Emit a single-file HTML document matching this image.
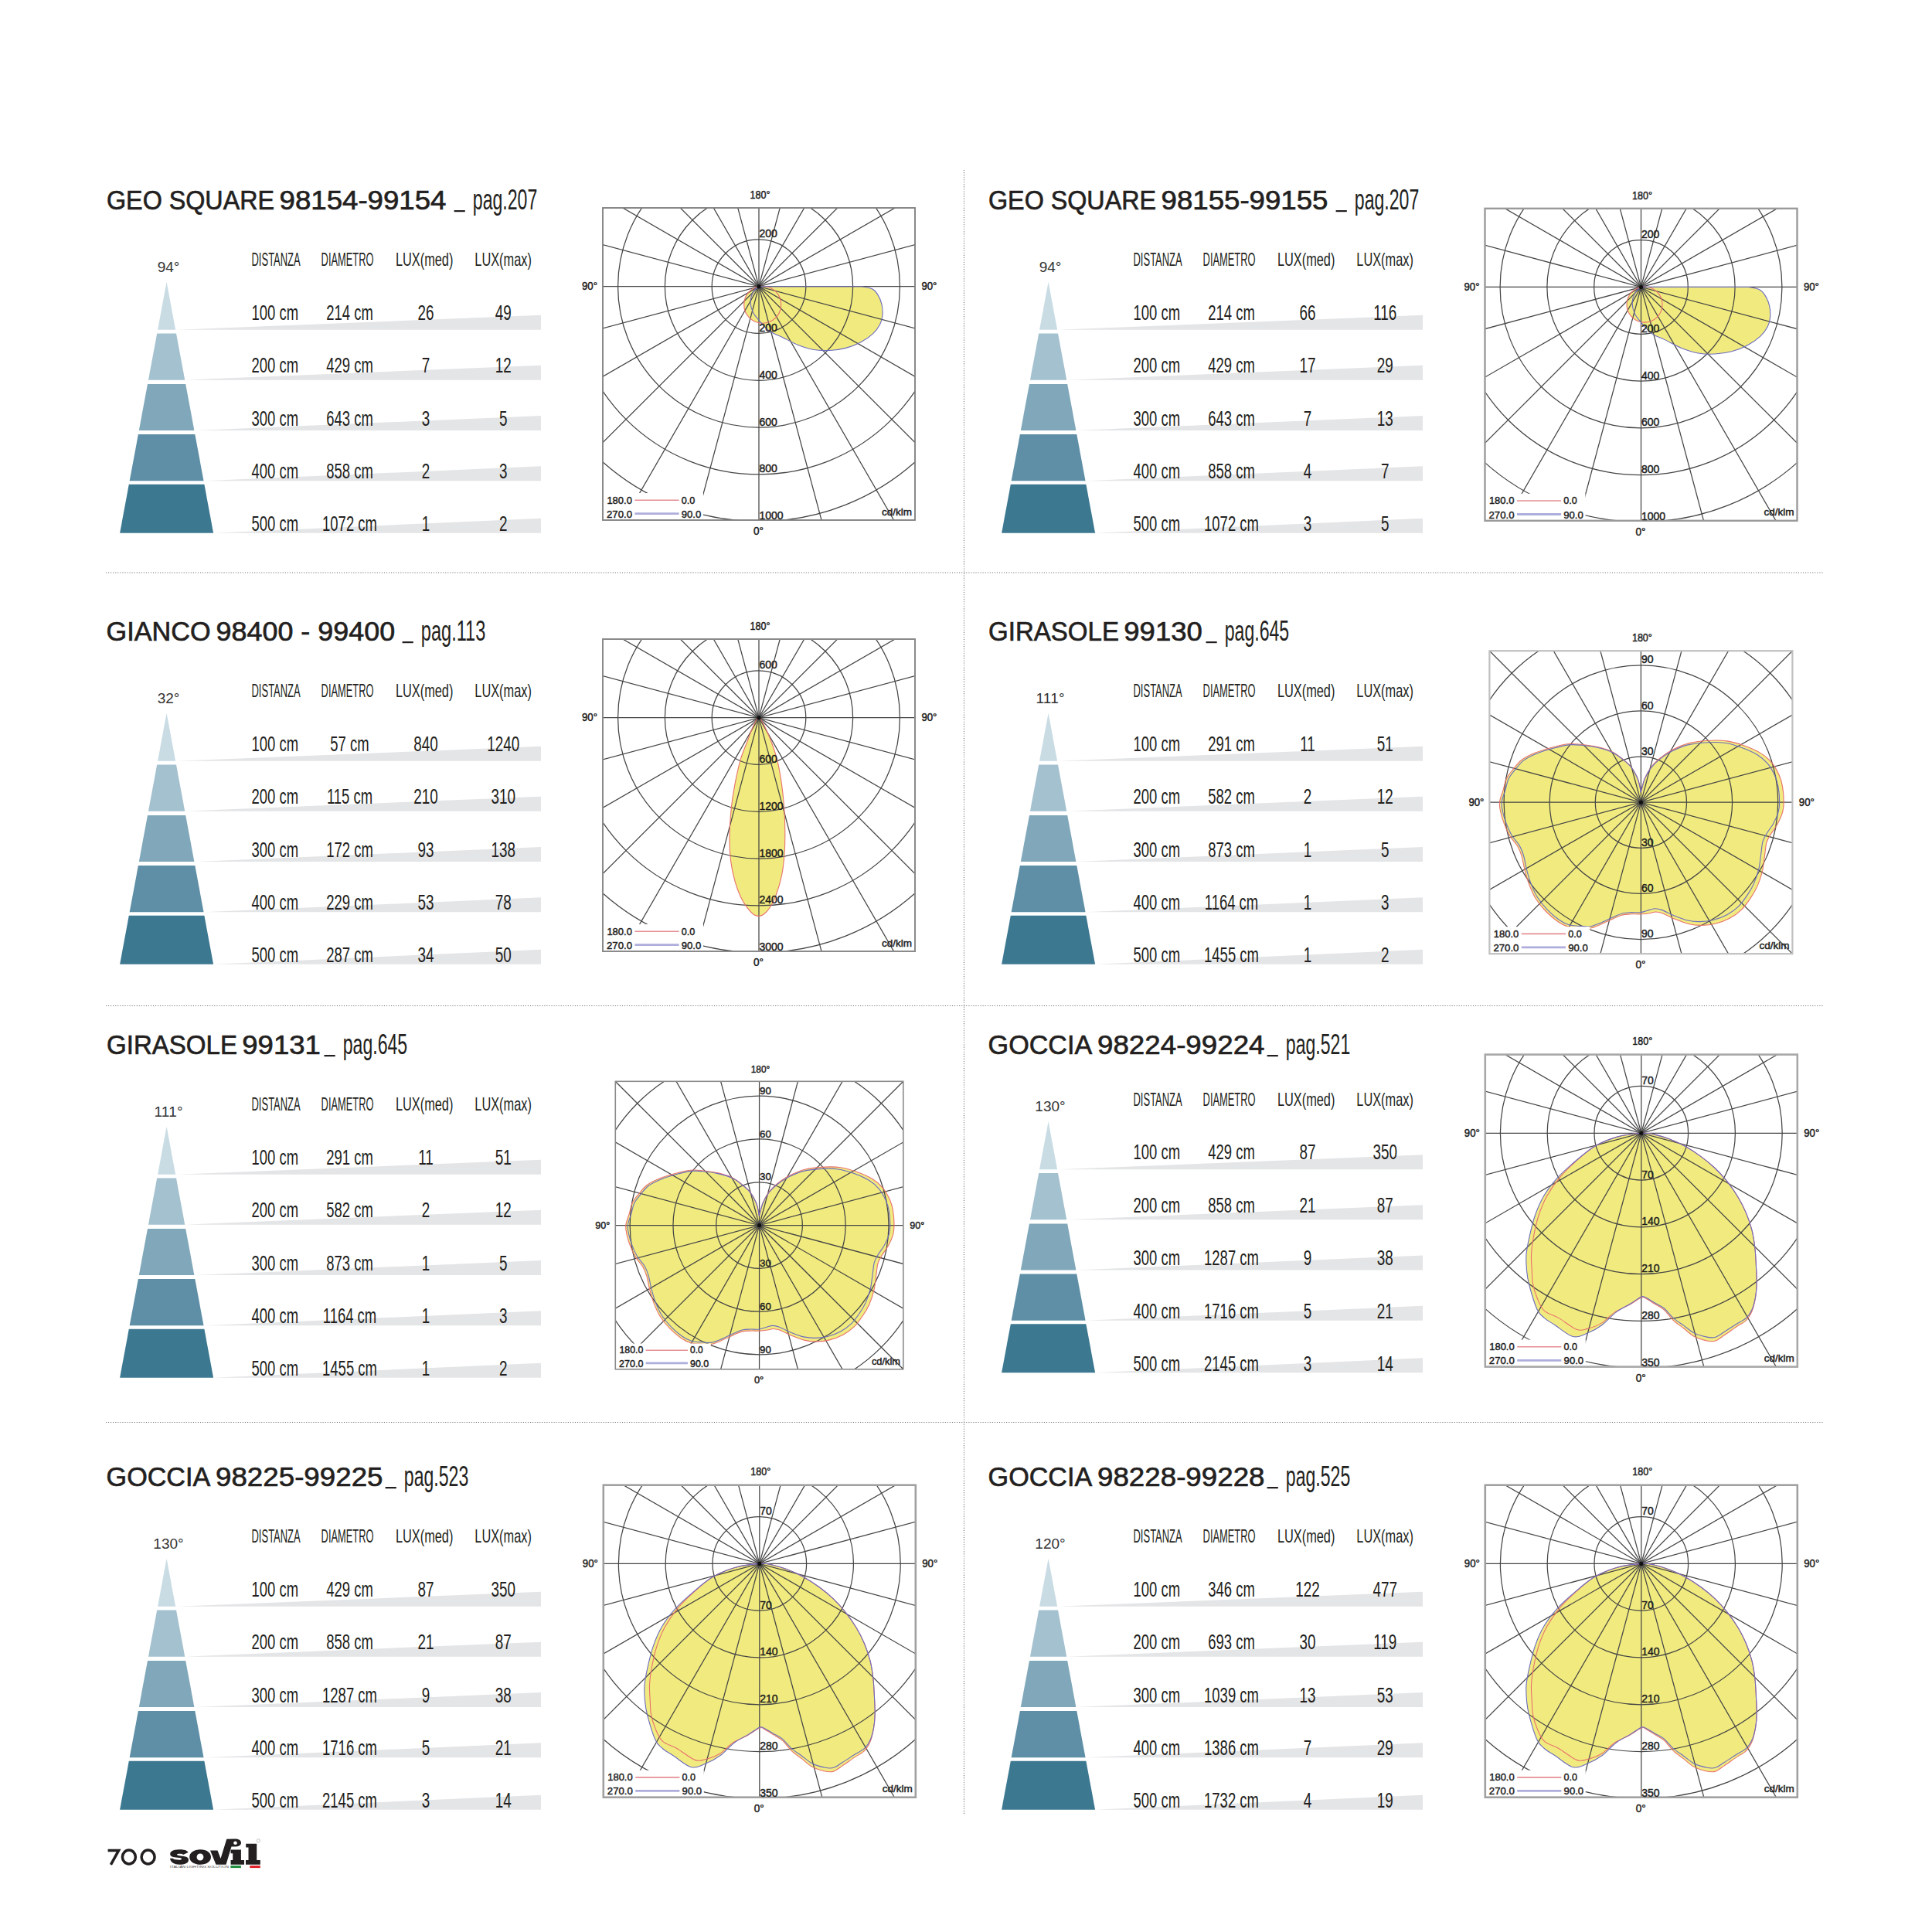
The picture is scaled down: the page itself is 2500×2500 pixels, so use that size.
<!DOCTYPE html><html><head><meta charset="utf-8"><style>html,body{margin:0;padding:0;background:#fff;}svg{display:block;}text{font-family:"Liberation Sans", sans-serif;}</style></head><body>
<svg width="2500" height="2500" viewBox="0 0 2500 2500">
<rect width="2500" height="2500" fill="#fff"/>
<line x1="137" y1="741" x2="2359" y2="741" stroke="#6e6e6e" stroke-width="1.1" stroke-dasharray="1.1 1.95"/>
<line x1="137" y1="1301.5" x2="2359" y2="1301.5" stroke="#6e6e6e" stroke-width="1.1" stroke-dasharray="1.1 1.95"/>
<line x1="137" y1="1840.5" x2="2359" y2="1840.5" stroke="#6e6e6e" stroke-width="1.1" stroke-dasharray="1.1 1.95"/>
<line x1="1247.5" y1="220" x2="1247.5" y2="2349" stroke="#6e6e6e" stroke-width="1.1" stroke-dasharray="1.1 1.95"/>
<g transform="translate(0,0)">
<text x="138" y="271" font-size="35.5" fill="#231f20" stroke="#231f20" stroke-width="0.7" lengthAdjust="spacingAndGlyphs" textLength="217">GEO SQUARE</text>
<text x="361.5" y="271" font-size="35.5" fill="#231f20" stroke="#231f20" stroke-width="0.7" lengthAdjust="spacingAndGlyphs" textLength="216">98154-99154</text>
<rect x="587.6" y="272" width="14.2" height="2.2" fill="#231f20"/>
<text x="611.8" y="270.8" font-size="37" fill="#231f20" textLength="83.5" lengthAdjust="spacingAndGlyphs">pag.207</text>
<g transform="translate(0,0)">
<text x="218" y="351.9" font-size="19" fill="#333" text-anchor="middle">94°</text>
<polygon points="215.6,364.8 227.14,426.8 204.06,426.8" fill="#c9dce4"/>
<polygon points="203.18,431.5 228.02,431.5 239.23,491.7 191.97,491.7" fill="#a4c1cf"/>
<polygon points="190.98,497 240.22,497 251.39,557 179.81,557" fill="#80a8ba"/>
<polygon points="178.9,561.9 252.3,561.9 263.55,622.3 167.65,622.3" fill="#5e8fa6"/>
<polygon points="166.82,626.8 264.38,626.8 276.1,689.7 155.1,689.7" fill="#3d7891"/>
<polygon points="227.14,426.8 700,426.8 700,407.8" fill="#e4e5e7"/>
<polygon points="239.23,491.7 700,491.7 700,472.7" fill="#e4e5e7"/>
<polygon points="251.39,557 700,557 700,538" fill="#e4e5e7"/>
<polygon points="263.55,622.3 700,622.3 700,603.3" fill="#e4e5e7"/>
<polygon points="276.1,689.7 700,689.7 700,670.7" fill="#e4e5e7"/>
<text x="325.5" y="344.2" font-size="24" fill="#231f20" lengthAdjust="spacingAndGlyphs" textLength="63.2">DISTANZA</text>
<text x="415.6" y="344.2" font-size="24" fill="#231f20" lengthAdjust="spacingAndGlyphs" textLength="67.9">DIAMETRO</text>
<text x="511.9" y="344.2" font-size="24" fill="#231f20" lengthAdjust="spacingAndGlyphs" textLength="74.5">LUX(med)</text>
<text x="614.3" y="344.2" font-size="24" fill="#231f20" lengthAdjust="spacingAndGlyphs" textLength="73.6">LUX(max)</text>
<text transform="translate(325.5,413.6) scale(0.665,1)" font-size="27.8" fill="#231f20">100 cm</text>
<text transform="translate(452.5,413.6) scale(0.665,1)" font-size="27.8" fill="#231f20" text-anchor="middle">214 cm</text>
<text transform="translate(551,413.6) scale(0.68,1)" font-size="27.8" fill="#231f20" text-anchor="middle">26</text>
<text transform="translate(651.3,413.6) scale(0.68,1)" font-size="27.8" fill="#231f20" text-anchor="middle">49</text>
<text transform="translate(325.5,482) scale(0.665,1)" font-size="27.8" fill="#231f20">200 cm</text>
<text transform="translate(452.5,482) scale(0.665,1)" font-size="27.8" fill="#231f20" text-anchor="middle">429 cm</text>
<text transform="translate(551,482) scale(0.68,1)" font-size="27.8" fill="#231f20" text-anchor="middle">7</text>
<text transform="translate(651.3,482) scale(0.68,1)" font-size="27.8" fill="#231f20" text-anchor="middle">12</text>
<text transform="translate(325.5,550.6) scale(0.665,1)" font-size="27.8" fill="#231f20">300 cm</text>
<text transform="translate(452.5,550.6) scale(0.665,1)" font-size="27.8" fill="#231f20" text-anchor="middle">643 cm</text>
<text transform="translate(551,550.6) scale(0.68,1)" font-size="27.8" fill="#231f20" text-anchor="middle">3</text>
<text transform="translate(651.3,550.6) scale(0.68,1)" font-size="27.8" fill="#231f20" text-anchor="middle">5</text>
<text transform="translate(325.5,619) scale(0.665,1)" font-size="27.8" fill="#231f20">400 cm</text>
<text transform="translate(452.5,619) scale(0.665,1)" font-size="27.8" fill="#231f20" text-anchor="middle">858 cm</text>
<text transform="translate(551,619) scale(0.68,1)" font-size="27.8" fill="#231f20" text-anchor="middle">2</text>
<text transform="translate(651.3,619) scale(0.68,1)" font-size="27.8" fill="#231f20" text-anchor="middle">3</text>
<text transform="translate(325.5,687.2) scale(0.665,1)" font-size="27.8" fill="#231f20">500 cm</text>
<text transform="translate(452.5,687.2) scale(0.665,1)" font-size="27.8" fill="#231f20" text-anchor="middle">1072 cm</text>
<text transform="translate(551,687.2) scale(0.68,1)" font-size="27.8" fill="#231f20" text-anchor="middle">1</text>
<text transform="translate(651.3,687.2) scale(0.68,1)" font-size="27.8" fill="#231f20" text-anchor="middle">2</text>
</g>
</g>
<g transform="translate(1141,0)">
<text x="138" y="271" font-size="35.5" fill="#231f20" stroke="#231f20" stroke-width="0.7" lengthAdjust="spacingAndGlyphs" textLength="217">GEO SQUARE</text>
<text x="361.5" y="271" font-size="35.5" fill="#231f20" stroke="#231f20" stroke-width="0.7" lengthAdjust="spacingAndGlyphs" textLength="216">98155-99155</text>
<rect x="587.6" y="272" width="14.2" height="2.2" fill="#231f20"/>
<text x="611.8" y="270.8" font-size="37" fill="#231f20" textLength="83.5" lengthAdjust="spacingAndGlyphs">pag.207</text>
<g transform="translate(0,0)">
<text x="218" y="351.9" font-size="19" fill="#333" text-anchor="middle">94°</text>
<polygon points="215.6,364.8 227.14,426.8 204.06,426.8" fill="#c9dce4"/>
<polygon points="203.18,431.5 228.02,431.5 239.23,491.7 191.97,491.7" fill="#a4c1cf"/>
<polygon points="190.98,497 240.22,497 251.39,557 179.81,557" fill="#80a8ba"/>
<polygon points="178.9,561.9 252.3,561.9 263.55,622.3 167.65,622.3" fill="#5e8fa6"/>
<polygon points="166.82,626.8 264.38,626.8 276.1,689.7 155.1,689.7" fill="#3d7891"/>
<polygon points="227.14,426.8 700,426.8 700,407.8" fill="#e4e5e7"/>
<polygon points="239.23,491.7 700,491.7 700,472.7" fill="#e4e5e7"/>
<polygon points="251.39,557 700,557 700,538" fill="#e4e5e7"/>
<polygon points="263.55,622.3 700,622.3 700,603.3" fill="#e4e5e7"/>
<polygon points="276.1,689.7 700,689.7 700,670.7" fill="#e4e5e7"/>
<text x="325.5" y="344.2" font-size="24" fill="#231f20" lengthAdjust="spacingAndGlyphs" textLength="63.2">DISTANZA</text>
<text x="415.6" y="344.2" font-size="24" fill="#231f20" lengthAdjust="spacingAndGlyphs" textLength="67.9">DIAMETRO</text>
<text x="511.9" y="344.2" font-size="24" fill="#231f20" lengthAdjust="spacingAndGlyphs" textLength="74.5">LUX(med)</text>
<text x="614.3" y="344.2" font-size="24" fill="#231f20" lengthAdjust="spacingAndGlyphs" textLength="73.6">LUX(max)</text>
<text transform="translate(325.5,413.6) scale(0.665,1)" font-size="27.8" fill="#231f20">100 cm</text>
<text transform="translate(452.5,413.6) scale(0.665,1)" font-size="27.8" fill="#231f20" text-anchor="middle">214 cm</text>
<text transform="translate(551,413.6) scale(0.68,1)" font-size="27.8" fill="#231f20" text-anchor="middle">66</text>
<text transform="translate(651.3,413.6) scale(0.68,1)" font-size="27.8" fill="#231f20" text-anchor="middle">116</text>
<text transform="translate(325.5,482) scale(0.665,1)" font-size="27.8" fill="#231f20">200 cm</text>
<text transform="translate(452.5,482) scale(0.665,1)" font-size="27.8" fill="#231f20" text-anchor="middle">429 cm</text>
<text transform="translate(551,482) scale(0.68,1)" font-size="27.8" fill="#231f20" text-anchor="middle">17</text>
<text transform="translate(651.3,482) scale(0.68,1)" font-size="27.8" fill="#231f20" text-anchor="middle">29</text>
<text transform="translate(325.5,550.6) scale(0.665,1)" font-size="27.8" fill="#231f20">300 cm</text>
<text transform="translate(452.5,550.6) scale(0.665,1)" font-size="27.8" fill="#231f20" text-anchor="middle">643 cm</text>
<text transform="translate(551,550.6) scale(0.68,1)" font-size="27.8" fill="#231f20" text-anchor="middle">7</text>
<text transform="translate(651.3,550.6) scale(0.68,1)" font-size="27.8" fill="#231f20" text-anchor="middle">13</text>
<text transform="translate(325.5,619) scale(0.665,1)" font-size="27.8" fill="#231f20">400 cm</text>
<text transform="translate(452.5,619) scale(0.665,1)" font-size="27.8" fill="#231f20" text-anchor="middle">858 cm</text>
<text transform="translate(551,619) scale(0.68,1)" font-size="27.8" fill="#231f20" text-anchor="middle">4</text>
<text transform="translate(651.3,619) scale(0.68,1)" font-size="27.8" fill="#231f20" text-anchor="middle">7</text>
<text transform="translate(325.5,687.2) scale(0.665,1)" font-size="27.8" fill="#231f20">500 cm</text>
<text transform="translate(452.5,687.2) scale(0.665,1)" font-size="27.8" fill="#231f20" text-anchor="middle">1072 cm</text>
<text transform="translate(551,687.2) scale(0.68,1)" font-size="27.8" fill="#231f20" text-anchor="middle">3</text>
<text transform="translate(651.3,687.2) scale(0.68,1)" font-size="27.8" fill="#231f20" text-anchor="middle">5</text>
</g>
</g>
<g transform="translate(0,558)">
<text x="137.6" y="271" font-size="35.5" fill="#231f20" stroke="#231f20" stroke-width="0.7" lengthAdjust="spacingAndGlyphs" textLength="135">GIANCO</text>
<text x="279.6" y="271" font-size="35.5" fill="#231f20" stroke="#231f20" stroke-width="0.7" lengthAdjust="spacingAndGlyphs" textLength="231.5">98400 - 99400</text>
<rect x="520.6" y="272" width="14.2" height="2.2" fill="#231f20"/>
<text x="544.8" y="270.8" font-size="37" fill="#231f20" textLength="83.5" lengthAdjust="spacingAndGlyphs">pag.113</text>
<g transform="translate(0,0)">
<text x="218" y="351.9" font-size="19" fill="#333" text-anchor="middle">32°</text>
<polygon points="215.6,364.8 227.14,426.8 204.06,426.8" fill="#c9dce4"/>
<polygon points="203.18,431.5 228.02,431.5 239.23,491.7 191.97,491.7" fill="#a4c1cf"/>
<polygon points="190.98,497 240.22,497 251.39,557 179.81,557" fill="#80a8ba"/>
<polygon points="178.9,561.9 252.3,561.9 263.55,622.3 167.65,622.3" fill="#5e8fa6"/>
<polygon points="166.82,626.8 264.38,626.8 276.1,689.7 155.1,689.7" fill="#3d7891"/>
<polygon points="227.14,426.8 700,426.8 700,407.8" fill="#e4e5e7"/>
<polygon points="239.23,491.7 700,491.7 700,472.7" fill="#e4e5e7"/>
<polygon points="251.39,557 700,557 700,538" fill="#e4e5e7"/>
<polygon points="263.55,622.3 700,622.3 700,603.3" fill="#e4e5e7"/>
<polygon points="276.1,689.7 700,689.7 700,670.7" fill="#e4e5e7"/>
<text x="325.5" y="344.2" font-size="24" fill="#231f20" lengthAdjust="spacingAndGlyphs" textLength="63.2">DISTANZA</text>
<text x="415.6" y="344.2" font-size="24" fill="#231f20" lengthAdjust="spacingAndGlyphs" textLength="67.9">DIAMETRO</text>
<text x="511.9" y="344.2" font-size="24" fill="#231f20" lengthAdjust="spacingAndGlyphs" textLength="74.5">LUX(med)</text>
<text x="614.3" y="344.2" font-size="24" fill="#231f20" lengthAdjust="spacingAndGlyphs" textLength="73.6">LUX(max)</text>
<text transform="translate(325.5,413.6) scale(0.665,1)" font-size="27.8" fill="#231f20">100 cm</text>
<text transform="translate(452.5,413.6) scale(0.665,1)" font-size="27.8" fill="#231f20" text-anchor="middle">57 cm</text>
<text transform="translate(551,413.6) scale(0.68,1)" font-size="27.8" fill="#231f20" text-anchor="middle">840</text>
<text transform="translate(651.3,413.6) scale(0.68,1)" font-size="27.8" fill="#231f20" text-anchor="middle">1240</text>
<text transform="translate(325.5,482) scale(0.665,1)" font-size="27.8" fill="#231f20">200 cm</text>
<text transform="translate(452.5,482) scale(0.665,1)" font-size="27.8" fill="#231f20" text-anchor="middle">115 cm</text>
<text transform="translate(551,482) scale(0.68,1)" font-size="27.8" fill="#231f20" text-anchor="middle">210</text>
<text transform="translate(651.3,482) scale(0.68,1)" font-size="27.8" fill="#231f20" text-anchor="middle">310</text>
<text transform="translate(325.5,550.6) scale(0.665,1)" font-size="27.8" fill="#231f20">300 cm</text>
<text transform="translate(452.5,550.6) scale(0.665,1)" font-size="27.8" fill="#231f20" text-anchor="middle">172 cm</text>
<text transform="translate(551,550.6) scale(0.68,1)" font-size="27.8" fill="#231f20" text-anchor="middle">93</text>
<text transform="translate(651.3,550.6) scale(0.68,1)" font-size="27.8" fill="#231f20" text-anchor="middle">138</text>
<text transform="translate(325.5,619) scale(0.665,1)" font-size="27.8" fill="#231f20">400 cm</text>
<text transform="translate(452.5,619) scale(0.665,1)" font-size="27.8" fill="#231f20" text-anchor="middle">229 cm</text>
<text transform="translate(551,619) scale(0.68,1)" font-size="27.8" fill="#231f20" text-anchor="middle">53</text>
<text transform="translate(651.3,619) scale(0.68,1)" font-size="27.8" fill="#231f20" text-anchor="middle">78</text>
<text transform="translate(325.5,687.2) scale(0.665,1)" font-size="27.8" fill="#231f20">500 cm</text>
<text transform="translate(452.5,687.2) scale(0.665,1)" font-size="27.8" fill="#231f20" text-anchor="middle">287 cm</text>
<text transform="translate(551,687.2) scale(0.68,1)" font-size="27.8" fill="#231f20" text-anchor="middle">34</text>
<text transform="translate(651.3,687.2) scale(0.68,1)" font-size="27.8" fill="#231f20" text-anchor="middle">50</text>
</g>
</g>
<g transform="translate(1141,558)">
<text x="138" y="271" font-size="35.5" fill="#231f20" stroke="#231f20" stroke-width="0.7" lengthAdjust="spacingAndGlyphs" textLength="169">GIRASOLE</text>
<text x="313.3" y="271" font-size="35.5" fill="#231f20" stroke="#231f20" stroke-width="0.7" lengthAdjust="spacingAndGlyphs" textLength="101.5">99130</text>
<rect x="419.5" y="272" width="14.2" height="2.2" fill="#231f20"/>
<text x="443.7" y="270.8" font-size="37" fill="#231f20" textLength="83.5" lengthAdjust="spacingAndGlyphs">pag.645</text>
<g transform="translate(0,0)">
<text x="218" y="351.9" font-size="19" fill="#333" text-anchor="middle" textLength="37" lengthAdjust="spacing">111°</text>
<polygon points="215.6,364.8 227.14,426.8 204.06,426.8" fill="#c9dce4"/>
<polygon points="203.18,431.5 228.02,431.5 239.23,491.7 191.97,491.7" fill="#a4c1cf"/>
<polygon points="190.98,497 240.22,497 251.39,557 179.81,557" fill="#80a8ba"/>
<polygon points="178.9,561.9 252.3,561.9 263.55,622.3 167.65,622.3" fill="#5e8fa6"/>
<polygon points="166.82,626.8 264.38,626.8 276.1,689.7 155.1,689.7" fill="#3d7891"/>
<polygon points="227.14,426.8 700,426.8 700,407.8" fill="#e4e5e7"/>
<polygon points="239.23,491.7 700,491.7 700,472.7" fill="#e4e5e7"/>
<polygon points="251.39,557 700,557 700,538" fill="#e4e5e7"/>
<polygon points="263.55,622.3 700,622.3 700,603.3" fill="#e4e5e7"/>
<polygon points="276.1,689.7 700,689.7 700,670.7" fill="#e4e5e7"/>
<text x="325.5" y="344.2" font-size="24" fill="#231f20" lengthAdjust="spacingAndGlyphs" textLength="63.2">DISTANZA</text>
<text x="415.6" y="344.2" font-size="24" fill="#231f20" lengthAdjust="spacingAndGlyphs" textLength="67.9">DIAMETRO</text>
<text x="511.9" y="344.2" font-size="24" fill="#231f20" lengthAdjust="spacingAndGlyphs" textLength="74.5">LUX(med)</text>
<text x="614.3" y="344.2" font-size="24" fill="#231f20" lengthAdjust="spacingAndGlyphs" textLength="73.6">LUX(max)</text>
<text transform="translate(325.5,413.6) scale(0.665,1)" font-size="27.8" fill="#231f20">100 cm</text>
<text transform="translate(452.5,413.6) scale(0.665,1)" font-size="27.8" fill="#231f20" text-anchor="middle">291 cm</text>
<text transform="translate(551,413.6) scale(0.68,1)" font-size="27.8" fill="#231f20" text-anchor="middle">11</text>
<text transform="translate(651.3,413.6) scale(0.68,1)" font-size="27.8" fill="#231f20" text-anchor="middle">51</text>
<text transform="translate(325.5,482) scale(0.665,1)" font-size="27.8" fill="#231f20">200 cm</text>
<text transform="translate(452.5,482) scale(0.665,1)" font-size="27.8" fill="#231f20" text-anchor="middle">582 cm</text>
<text transform="translate(551,482) scale(0.68,1)" font-size="27.8" fill="#231f20" text-anchor="middle">2</text>
<text transform="translate(651.3,482) scale(0.68,1)" font-size="27.8" fill="#231f20" text-anchor="middle">12</text>
<text transform="translate(325.5,550.6) scale(0.665,1)" font-size="27.8" fill="#231f20">300 cm</text>
<text transform="translate(452.5,550.6) scale(0.665,1)" font-size="27.8" fill="#231f20" text-anchor="middle">873 cm</text>
<text transform="translate(551,550.6) scale(0.68,1)" font-size="27.8" fill="#231f20" text-anchor="middle">1</text>
<text transform="translate(651.3,550.6) scale(0.68,1)" font-size="27.8" fill="#231f20" text-anchor="middle">5</text>
<text transform="translate(325.5,619) scale(0.665,1)" font-size="27.8" fill="#231f20">400 cm</text>
<text transform="translate(452.5,619) scale(0.665,1)" font-size="27.8" fill="#231f20" text-anchor="middle">1164 cm</text>
<text transform="translate(551,619) scale(0.68,1)" font-size="27.8" fill="#231f20" text-anchor="middle">1</text>
<text transform="translate(651.3,619) scale(0.68,1)" font-size="27.8" fill="#231f20" text-anchor="middle">3</text>
<text transform="translate(325.5,687.2) scale(0.665,1)" font-size="27.8" fill="#231f20">500 cm</text>
<text transform="translate(452.5,687.2) scale(0.665,1)" font-size="27.8" fill="#231f20" text-anchor="middle">1455 cm</text>
<text transform="translate(551,687.2) scale(0.68,1)" font-size="27.8" fill="#231f20" text-anchor="middle">1</text>
<text transform="translate(651.3,687.2) scale(0.68,1)" font-size="27.8" fill="#231f20" text-anchor="middle">2</text>
</g>
</g>
<g transform="translate(0,1093)">
<text x="138" y="271" font-size="35.5" fill="#231f20" stroke="#231f20" stroke-width="0.7" lengthAdjust="spacingAndGlyphs" textLength="169">GIRASOLE</text>
<text x="313.3" y="271" font-size="35.5" fill="#231f20" stroke="#231f20" stroke-width="0.7" lengthAdjust="spacingAndGlyphs" textLength="101.5">99131</text>
<rect x="419.5" y="272" width="14.2" height="2.2" fill="#231f20"/>
<text x="443.7" y="270.8" font-size="37" fill="#231f20" textLength="83.5" lengthAdjust="spacingAndGlyphs">pag.645</text>
<g transform="translate(0,0)">
<text x="218" y="351.9" font-size="19" fill="#333" text-anchor="middle" textLength="37" lengthAdjust="spacing">111°</text>
<polygon points="215.6,364.8 227.14,426.8 204.06,426.8" fill="#c9dce4"/>
<polygon points="203.18,431.5 228.02,431.5 239.23,491.7 191.97,491.7" fill="#a4c1cf"/>
<polygon points="190.98,497 240.22,497 251.39,557 179.81,557" fill="#80a8ba"/>
<polygon points="178.9,561.9 252.3,561.9 263.55,622.3 167.65,622.3" fill="#5e8fa6"/>
<polygon points="166.82,626.8 264.38,626.8 276.1,689.7 155.1,689.7" fill="#3d7891"/>
<polygon points="227.14,426.8 700,426.8 700,407.8" fill="#e4e5e7"/>
<polygon points="239.23,491.7 700,491.7 700,472.7" fill="#e4e5e7"/>
<polygon points="251.39,557 700,557 700,538" fill="#e4e5e7"/>
<polygon points="263.55,622.3 700,622.3 700,603.3" fill="#e4e5e7"/>
<polygon points="276.1,689.7 700,689.7 700,670.7" fill="#e4e5e7"/>
<text x="325.5" y="344.2" font-size="24" fill="#231f20" lengthAdjust="spacingAndGlyphs" textLength="63.2">DISTANZA</text>
<text x="415.6" y="344.2" font-size="24" fill="#231f20" lengthAdjust="spacingAndGlyphs" textLength="67.9">DIAMETRO</text>
<text x="511.9" y="344.2" font-size="24" fill="#231f20" lengthAdjust="spacingAndGlyphs" textLength="74.5">LUX(med)</text>
<text x="614.3" y="344.2" font-size="24" fill="#231f20" lengthAdjust="spacingAndGlyphs" textLength="73.6">LUX(max)</text>
<text transform="translate(325.5,413.6) scale(0.665,1)" font-size="27.8" fill="#231f20">100 cm</text>
<text transform="translate(452.5,413.6) scale(0.665,1)" font-size="27.8" fill="#231f20" text-anchor="middle">291 cm</text>
<text transform="translate(551,413.6) scale(0.68,1)" font-size="27.8" fill="#231f20" text-anchor="middle">11</text>
<text transform="translate(651.3,413.6) scale(0.68,1)" font-size="27.8" fill="#231f20" text-anchor="middle">51</text>
<text transform="translate(325.5,482) scale(0.665,1)" font-size="27.8" fill="#231f20">200 cm</text>
<text transform="translate(452.5,482) scale(0.665,1)" font-size="27.8" fill="#231f20" text-anchor="middle">582 cm</text>
<text transform="translate(551,482) scale(0.68,1)" font-size="27.8" fill="#231f20" text-anchor="middle">2</text>
<text transform="translate(651.3,482) scale(0.68,1)" font-size="27.8" fill="#231f20" text-anchor="middle">12</text>
<text transform="translate(325.5,550.6) scale(0.665,1)" font-size="27.8" fill="#231f20">300 cm</text>
<text transform="translate(452.5,550.6) scale(0.665,1)" font-size="27.8" fill="#231f20" text-anchor="middle">873 cm</text>
<text transform="translate(551,550.6) scale(0.68,1)" font-size="27.8" fill="#231f20" text-anchor="middle">1</text>
<text transform="translate(651.3,550.6) scale(0.68,1)" font-size="27.8" fill="#231f20" text-anchor="middle">5</text>
<text transform="translate(325.5,619) scale(0.665,1)" font-size="27.8" fill="#231f20">400 cm</text>
<text transform="translate(452.5,619) scale(0.665,1)" font-size="27.8" fill="#231f20" text-anchor="middle">1164 cm</text>
<text transform="translate(551,619) scale(0.68,1)" font-size="27.8" fill="#231f20" text-anchor="middle">1</text>
<text transform="translate(651.3,619) scale(0.68,1)" font-size="27.8" fill="#231f20" text-anchor="middle">3</text>
<text transform="translate(325.5,687.2) scale(0.665,1)" font-size="27.8" fill="#231f20">500 cm</text>
<text transform="translate(452.5,687.2) scale(0.665,1)" font-size="27.8" fill="#231f20" text-anchor="middle">1455 cm</text>
<text transform="translate(551,687.2) scale(0.68,1)" font-size="27.8" fill="#231f20" text-anchor="middle">1</text>
<text transform="translate(651.3,687.2) scale(0.68,1)" font-size="27.8" fill="#231f20" text-anchor="middle">2</text>
</g>
</g>
<g transform="translate(1141,1093)">
<text x="137.6" y="271" font-size="35.5" fill="#231f20" stroke="#231f20" stroke-width="0.7" lengthAdjust="spacingAndGlyphs" textLength="134.6">GOCCIA</text>
<text x="279" y="271" font-size="35.5" fill="#231f20" stroke="#231f20" stroke-width="0.7" lengthAdjust="spacingAndGlyphs" textLength="216.5">98224-99224</text>
<rect x="498.6" y="272" width="14.2" height="2.2" fill="#231f20"/>
<text x="522.8" y="270.8" font-size="37" fill="#231f20" textLength="83.5" lengthAdjust="spacingAndGlyphs">pag.521</text>
<g transform="translate(0,-6.5)">
<text x="218" y="351.9" font-size="19" fill="#333" text-anchor="middle">130°</text>
<polygon points="215.6,364.8 227.14,426.8 204.06,426.8" fill="#c9dce4"/>
<polygon points="203.18,431.5 228.02,431.5 239.23,491.7 191.97,491.7" fill="#a4c1cf"/>
<polygon points="190.98,497 240.22,497 251.39,557 179.81,557" fill="#80a8ba"/>
<polygon points="178.9,561.9 252.3,561.9 263.55,622.3 167.65,622.3" fill="#5e8fa6"/>
<polygon points="166.82,626.8 264.38,626.8 276.1,689.7 155.1,689.7" fill="#3d7891"/>
<polygon points="227.14,426.8 700,426.8 700,407.8" fill="#e4e5e7"/>
<polygon points="239.23,491.7 700,491.7 700,472.7" fill="#e4e5e7"/>
<polygon points="251.39,557 700,557 700,538" fill="#e4e5e7"/>
<polygon points="263.55,622.3 700,622.3 700,603.3" fill="#e4e5e7"/>
<polygon points="276.1,689.7 700,689.7 700,670.7" fill="#e4e5e7"/>
<text x="325.5" y="344.2" font-size="24" fill="#231f20" lengthAdjust="spacingAndGlyphs" textLength="63.2">DISTANZA</text>
<text x="415.6" y="344.2" font-size="24" fill="#231f20" lengthAdjust="spacingAndGlyphs" textLength="67.9">DIAMETRO</text>
<text x="511.9" y="344.2" font-size="24" fill="#231f20" lengthAdjust="spacingAndGlyphs" textLength="74.5">LUX(med)</text>
<text x="614.3" y="344.2" font-size="24" fill="#231f20" lengthAdjust="spacingAndGlyphs" textLength="73.6">LUX(max)</text>
<text transform="translate(325.5,413.6) scale(0.665,1)" font-size="27.8" fill="#231f20">100 cm</text>
<text transform="translate(452.5,413.6) scale(0.665,1)" font-size="27.8" fill="#231f20" text-anchor="middle">429 cm</text>
<text transform="translate(551,413.6) scale(0.68,1)" font-size="27.8" fill="#231f20" text-anchor="middle">87</text>
<text transform="translate(651.3,413.6) scale(0.68,1)" font-size="27.8" fill="#231f20" text-anchor="middle">350</text>
<text transform="translate(325.5,482) scale(0.665,1)" font-size="27.8" fill="#231f20">200 cm</text>
<text transform="translate(452.5,482) scale(0.665,1)" font-size="27.8" fill="#231f20" text-anchor="middle">858 cm</text>
<text transform="translate(551,482) scale(0.68,1)" font-size="27.8" fill="#231f20" text-anchor="middle">21</text>
<text transform="translate(651.3,482) scale(0.68,1)" font-size="27.8" fill="#231f20" text-anchor="middle">87</text>
<text transform="translate(325.5,550.6) scale(0.665,1)" font-size="27.8" fill="#231f20">300 cm</text>
<text transform="translate(452.5,550.6) scale(0.665,1)" font-size="27.8" fill="#231f20" text-anchor="middle">1287 cm</text>
<text transform="translate(551,550.6) scale(0.68,1)" font-size="27.8" fill="#231f20" text-anchor="middle">9</text>
<text transform="translate(651.3,550.6) scale(0.68,1)" font-size="27.8" fill="#231f20" text-anchor="middle">38</text>
<text transform="translate(325.5,619) scale(0.665,1)" font-size="27.8" fill="#231f20">400 cm</text>
<text transform="translate(452.5,619) scale(0.665,1)" font-size="27.8" fill="#231f20" text-anchor="middle">1716 cm</text>
<text transform="translate(551,619) scale(0.68,1)" font-size="27.8" fill="#231f20" text-anchor="middle">5</text>
<text transform="translate(651.3,619) scale(0.68,1)" font-size="27.8" fill="#231f20" text-anchor="middle">21</text>
<text transform="translate(325.5,687.2) scale(0.665,1)" font-size="27.8" fill="#231f20">500 cm</text>
<text transform="translate(452.5,687.2) scale(0.665,1)" font-size="27.8" fill="#231f20" text-anchor="middle">2145 cm</text>
<text transform="translate(551,687.2) scale(0.68,1)" font-size="27.8" fill="#231f20" text-anchor="middle">3</text>
<text transform="translate(651.3,687.2) scale(0.68,1)" font-size="27.8" fill="#231f20" text-anchor="middle">14</text>
</g>
</g>
<g transform="translate(0,1652)">
<text x="137.6" y="271" font-size="35.5" fill="#231f20" stroke="#231f20" stroke-width="0.7" lengthAdjust="spacingAndGlyphs" textLength="134.6">GOCCIA</text>
<text x="279" y="271" font-size="35.5" fill="#231f20" stroke="#231f20" stroke-width="0.7" lengthAdjust="spacingAndGlyphs" textLength="216.5">98225-99225</text>
<rect x="498.6" y="272" width="14.2" height="2.2" fill="#231f20"/>
<text x="522.8" y="270.8" font-size="37" fill="#231f20" textLength="83.5" lengthAdjust="spacingAndGlyphs">pag.523</text>
<g transform="translate(0,0)">
<text x="218" y="351.9" font-size="19" fill="#333" text-anchor="middle">130°</text>
<polygon points="215.6,364.8 227.14,426.8 204.06,426.8" fill="#c9dce4"/>
<polygon points="203.18,431.5 228.02,431.5 239.23,491.7 191.97,491.7" fill="#a4c1cf"/>
<polygon points="190.98,497 240.22,497 251.39,557 179.81,557" fill="#80a8ba"/>
<polygon points="178.9,561.9 252.3,561.9 263.55,622.3 167.65,622.3" fill="#5e8fa6"/>
<polygon points="166.82,626.8 264.38,626.8 276.1,689.7 155.1,689.7" fill="#3d7891"/>
<polygon points="227.14,426.8 700,426.8 700,407.8" fill="#e4e5e7"/>
<polygon points="239.23,491.7 700,491.7 700,472.7" fill="#e4e5e7"/>
<polygon points="251.39,557 700,557 700,538" fill="#e4e5e7"/>
<polygon points="263.55,622.3 700,622.3 700,603.3" fill="#e4e5e7"/>
<polygon points="276.1,689.7 700,689.7 700,670.7" fill="#e4e5e7"/>
<text x="325.5" y="344.2" font-size="24" fill="#231f20" lengthAdjust="spacingAndGlyphs" textLength="63.2">DISTANZA</text>
<text x="415.6" y="344.2" font-size="24" fill="#231f20" lengthAdjust="spacingAndGlyphs" textLength="67.9">DIAMETRO</text>
<text x="511.9" y="344.2" font-size="24" fill="#231f20" lengthAdjust="spacingAndGlyphs" textLength="74.5">LUX(med)</text>
<text x="614.3" y="344.2" font-size="24" fill="#231f20" lengthAdjust="spacingAndGlyphs" textLength="73.6">LUX(max)</text>
<text transform="translate(325.5,413.6) scale(0.665,1)" font-size="27.8" fill="#231f20">100 cm</text>
<text transform="translate(452.5,413.6) scale(0.665,1)" font-size="27.8" fill="#231f20" text-anchor="middle">429 cm</text>
<text transform="translate(551,413.6) scale(0.68,1)" font-size="27.8" fill="#231f20" text-anchor="middle">87</text>
<text transform="translate(651.3,413.6) scale(0.68,1)" font-size="27.8" fill="#231f20" text-anchor="middle">350</text>
<text transform="translate(325.5,482) scale(0.665,1)" font-size="27.8" fill="#231f20">200 cm</text>
<text transform="translate(452.5,482) scale(0.665,1)" font-size="27.8" fill="#231f20" text-anchor="middle">858 cm</text>
<text transform="translate(551,482) scale(0.68,1)" font-size="27.8" fill="#231f20" text-anchor="middle">21</text>
<text transform="translate(651.3,482) scale(0.68,1)" font-size="27.8" fill="#231f20" text-anchor="middle">87</text>
<text transform="translate(325.5,550.6) scale(0.665,1)" font-size="27.8" fill="#231f20">300 cm</text>
<text transform="translate(452.5,550.6) scale(0.665,1)" font-size="27.8" fill="#231f20" text-anchor="middle">1287 cm</text>
<text transform="translate(551,550.6) scale(0.68,1)" font-size="27.8" fill="#231f20" text-anchor="middle">9</text>
<text transform="translate(651.3,550.6) scale(0.68,1)" font-size="27.8" fill="#231f20" text-anchor="middle">38</text>
<text transform="translate(325.5,619) scale(0.665,1)" font-size="27.8" fill="#231f20">400 cm</text>
<text transform="translate(452.5,619) scale(0.665,1)" font-size="27.8" fill="#231f20" text-anchor="middle">1716 cm</text>
<text transform="translate(551,619) scale(0.68,1)" font-size="27.8" fill="#231f20" text-anchor="middle">5</text>
<text transform="translate(651.3,619) scale(0.68,1)" font-size="27.8" fill="#231f20" text-anchor="middle">21</text>
<text transform="translate(325.5,687.2) scale(0.665,1)" font-size="27.8" fill="#231f20">500 cm</text>
<text transform="translate(452.5,687.2) scale(0.665,1)" font-size="27.8" fill="#231f20" text-anchor="middle">2145 cm</text>
<text transform="translate(551,687.2) scale(0.68,1)" font-size="27.8" fill="#231f20" text-anchor="middle">3</text>
<text transform="translate(651.3,687.2) scale(0.68,1)" font-size="27.8" fill="#231f20" text-anchor="middle">14</text>
</g>
</g>
<g transform="translate(1141,1652)">
<text x="137.6" y="271" font-size="35.5" fill="#231f20" stroke="#231f20" stroke-width="0.7" lengthAdjust="spacingAndGlyphs" textLength="134.6">GOCCIA</text>
<text x="279" y="271" font-size="35.5" fill="#231f20" stroke="#231f20" stroke-width="0.7" lengthAdjust="spacingAndGlyphs" textLength="216.5">98228-99228</text>
<rect x="498.6" y="272" width="14.2" height="2.2" fill="#231f20"/>
<text x="522.8" y="270.8" font-size="37" fill="#231f20" textLength="83.5" lengthAdjust="spacingAndGlyphs">pag.525</text>
<g transform="translate(0,0)">
<text x="218" y="351.9" font-size="19" fill="#333" text-anchor="middle">120°</text>
<polygon points="215.6,364.8 227.14,426.8 204.06,426.8" fill="#c9dce4"/>
<polygon points="203.18,431.5 228.02,431.5 239.23,491.7 191.97,491.7" fill="#a4c1cf"/>
<polygon points="190.98,497 240.22,497 251.39,557 179.81,557" fill="#80a8ba"/>
<polygon points="178.9,561.9 252.3,561.9 263.55,622.3 167.65,622.3" fill="#5e8fa6"/>
<polygon points="166.82,626.8 264.38,626.8 276.1,689.7 155.1,689.7" fill="#3d7891"/>
<polygon points="227.14,426.8 700,426.8 700,407.8" fill="#e4e5e7"/>
<polygon points="239.23,491.7 700,491.7 700,472.7" fill="#e4e5e7"/>
<polygon points="251.39,557 700,557 700,538" fill="#e4e5e7"/>
<polygon points="263.55,622.3 700,622.3 700,603.3" fill="#e4e5e7"/>
<polygon points="276.1,689.7 700,689.7 700,670.7" fill="#e4e5e7"/>
<text x="325.5" y="344.2" font-size="24" fill="#231f20" lengthAdjust="spacingAndGlyphs" textLength="63.2">DISTANZA</text>
<text x="415.6" y="344.2" font-size="24" fill="#231f20" lengthAdjust="spacingAndGlyphs" textLength="67.9">DIAMETRO</text>
<text x="511.9" y="344.2" font-size="24" fill="#231f20" lengthAdjust="spacingAndGlyphs" textLength="74.5">LUX(med)</text>
<text x="614.3" y="344.2" font-size="24" fill="#231f20" lengthAdjust="spacingAndGlyphs" textLength="73.6">LUX(max)</text>
<text transform="translate(325.5,413.6) scale(0.665,1)" font-size="27.8" fill="#231f20">100 cm</text>
<text transform="translate(452.5,413.6) scale(0.665,1)" font-size="27.8" fill="#231f20" text-anchor="middle">346 cm</text>
<text transform="translate(551,413.6) scale(0.68,1)" font-size="27.8" fill="#231f20" text-anchor="middle">122</text>
<text transform="translate(651.3,413.6) scale(0.68,1)" font-size="27.8" fill="#231f20" text-anchor="middle">477</text>
<text transform="translate(325.5,482) scale(0.665,1)" font-size="27.8" fill="#231f20">200 cm</text>
<text transform="translate(452.5,482) scale(0.665,1)" font-size="27.8" fill="#231f20" text-anchor="middle">693 cm</text>
<text transform="translate(551,482) scale(0.68,1)" font-size="27.8" fill="#231f20" text-anchor="middle">30</text>
<text transform="translate(651.3,482) scale(0.68,1)" font-size="27.8" fill="#231f20" text-anchor="middle">119</text>
<text transform="translate(325.5,550.6) scale(0.665,1)" font-size="27.8" fill="#231f20">300 cm</text>
<text transform="translate(452.5,550.6) scale(0.665,1)" font-size="27.8" fill="#231f20" text-anchor="middle">1039 cm</text>
<text transform="translate(551,550.6) scale(0.68,1)" font-size="27.8" fill="#231f20" text-anchor="middle">13</text>
<text transform="translate(651.3,550.6) scale(0.68,1)" font-size="27.8" fill="#231f20" text-anchor="middle">53</text>
<text transform="translate(325.5,619) scale(0.665,1)" font-size="27.8" fill="#231f20">400 cm</text>
<text transform="translate(452.5,619) scale(0.665,1)" font-size="27.8" fill="#231f20" text-anchor="middle">1386 cm</text>
<text transform="translate(551,619) scale(0.68,1)" font-size="27.8" fill="#231f20" text-anchor="middle">7</text>
<text transform="translate(651.3,619) scale(0.68,1)" font-size="27.8" fill="#231f20" text-anchor="middle">29</text>
<text transform="translate(325.5,687.2) scale(0.665,1)" font-size="27.8" fill="#231f20">500 cm</text>
<text transform="translate(452.5,687.2) scale(0.665,1)" font-size="27.8" fill="#231f20" text-anchor="middle">1732 cm</text>
<text transform="translate(551,687.2) scale(0.68,1)" font-size="27.8" fill="#231f20" text-anchor="middle">4</text>
<text transform="translate(651.3,687.2) scale(0.68,1)" font-size="27.8" fill="#231f20" text-anchor="middle">19</text>
</g>
</g>
<g>
<clipPath id="cb1"><rect x="780" y="269" width="404" height="404"/></clipPath>
<g clip-path="url(#cb1)">
<rect x="780" y="269" width="404" height="404" fill="#fff"/>
<g transform="translate(982,370.69)"><path d="M0,0L133,0C136.92,0.52 143.05,1.37 146.5,3.1C149.95,4.83 151.63,7.12 153.7,10.4C155.77,13.68 157.87,18.32 158.9,22.8C159.93,27.28 160.25,32.98 159.9,37.3C159.55,41.62 158.87,44.73 156.8,48.7C154.73,52.67 151.8,57.13 147.5,61.1C143.2,65.07 136.87,69.4 131,72.5C125.13,75.6 118.87,77.98 112.3,79.7C105.73,81.42 98.5,82.45 91.6,82.8C84.7,83.15 77.8,83 70.9,81.8C64,80.6 57.1,78.37 50.2,75.6C43.3,72.83 35.53,68.13 29.5,65.2C23.47,62.27 18.65,61.28 14,58C9.35,54.72 5.23,49.65 1.6,45.5C-2.03,41.35 -5.72,37.58 -7.8,33.1C-9.88,28.62 -11.08,23.08 -10.9,18.6C-10.72,14.12 -8.52,9.3 -6.7,6.2C-4.88,3.1 -1.12,1.03 0,0Z" fill="#f1eb7f"/><circle cx="4.7" cy="23.5" r="24" fill="#f1eb7f"/></g>
<g stroke="#454545" stroke-width="1.25" fill="none">
<line x1="982" y1="-437.31" x2="982" y2="1178.69"/>
<line x1="772.87" y1="-409.78" x2="1191.13" y2="1151.15"/>
<line x1="578" y1="-329.06" x2="1386" y2="1070.44"/>
<line x1="410.66" y1="-200.66" x2="1553.34" y2="942.03"/>
<line x1="282.25" y1="-33.31" x2="1681.75" y2="774.69"/>
<line x1="201.53" y1="161.56" x2="1762.47" y2="579.81"/>
<line x1="174" y1="370.69" x2="1790" y2="370.69"/>
<line x1="201.53" y1="579.81" x2="1762.47" y2="161.56"/>
<line x1="282.25" y1="774.69" x2="1681.75" y2="-33.31"/>
<line x1="410.66" y1="942.03" x2="1553.34" y2="-200.66"/>
<line x1="578" y1="1070.44" x2="1386" y2="-329.06"/>
<line x1="772.87" y1="1151.15" x2="1191.13" y2="-409.78"/>
<circle cx="982" cy="370.69" r="60.8"/>
<circle cx="982" cy="370.69" r="121.6"/>
<circle cx="982" cy="370.69" r="182.4"/>
<circle cx="982" cy="370.69" r="243.2"/>
<circle cx="982" cy="370.69" r="304"/>
</g>
<g transform="translate(982,370.69)"><circle cx="4.7" cy="23.5" r="24" fill="none" stroke="#e8716e" stroke-width="1.1"/><path d="M0,0L133,0C136.92,0.52 143.05,1.37 146.5,3.1C149.95,4.83 151.63,7.12 153.7,10.4C155.77,13.68 157.87,18.32 158.9,22.8C159.93,27.28 160.25,32.98 159.9,37.3C159.55,41.62 158.87,44.73 156.8,48.7C154.73,52.67 151.8,57.13 147.5,61.1C143.2,65.07 136.87,69.4 131,72.5C125.13,75.6 118.87,77.98 112.3,79.7C105.73,81.42 98.5,82.45 91.6,82.8C84.7,83.15 77.8,83 70.9,81.8C64,80.6 57.1,78.37 50.2,75.6C43.3,72.83 35.53,68.13 29.5,65.2C23.47,62.27 18.65,61.28 14,58C9.35,54.72 5.23,49.65 1.6,45.5C-2.03,41.35 -5.72,37.58 -7.8,33.1C-9.88,28.62 -11.08,23.08 -10.9,18.6C-10.72,14.12 -8.52,9.3 -6.7,6.2C-4.88,3.1 -1.12,1.03 0,0Z" fill="none" stroke="#6c6cc0" stroke-width="1.1"/></g>
<circle cx="982" cy="370.69" r="2.6" fill="#111"/>
<rect x="780" y="638" width="130" height="35" fill="#fff"/>
</g>
<rect x="780" y="269" width="404" height="404" fill="none" stroke="#7d7d7d" stroke-width="1.8"/>
<text x="982.5" y="307.39" font-size="14" fill="#1c1c1c" stroke="#1c1c1c" stroke-width="0.45">200</text>
<text x="982.5" y="428.99" font-size="14" fill="#1c1c1c" stroke="#1c1c1c" stroke-width="0.45">200</text>
<text x="982.5" y="489.79" font-size="14" fill="#1c1c1c" stroke="#1c1c1c" stroke-width="0.45">400</text>
<text x="982.5" y="550.59" font-size="14" fill="#1c1c1c" stroke="#1c1c1c" stroke-width="0.45">600</text>
<text x="982.5" y="611.39" font-size="14" fill="#1c1c1c" stroke="#1c1c1c" stroke-width="0.45">800</text>
<text x="982.5" y="672.19" font-size="14" fill="#1c1c1c" stroke="#1c1c1c" stroke-width="0.45">1000</text>
<text x="785.4" y="651.5" font-size="13.5" fill="#1c1c1c" stroke="#1c1c1c" stroke-width="0.45" textLength="32.5" lengthAdjust="spacingAndGlyphs">180.0</text>
<text x="785" y="669.7" font-size="13.5" fill="#1c1c1c" stroke="#1c1c1c" stroke-width="0.45" textLength="33" lengthAdjust="spacingAndGlyphs">270.0</text>
<text x="881.8" y="651.5" font-size="13.5" fill="#1c1c1c" stroke="#1c1c1c" stroke-width="0.45" textLength="17.5" lengthAdjust="spacingAndGlyphs">0.0</text>
<text x="881.8" y="669.7" font-size="13.5" fill="#1c1c1c" stroke="#1c1c1c" stroke-width="0.45" textLength="25.5" lengthAdjust="spacingAndGlyphs">90.0</text>
<line x1="821.4" y1="647.2" x2="878.6" y2="647.2" stroke="#e58f93" stroke-width="1.6"/>
<line x1="821.4" y1="664.7" x2="878.6" y2="664.7" stroke="#aeaedc" stroke-width="2.8"/>
<text x="1180" y="666.5" font-size="13.5" fill="#1c1c1c" stroke="#1c1c1c" stroke-width="0.45" textLength="39" lengthAdjust="spacingAndGlyphs" text-anchor="end">cd/klm</text>
<text x="983.5" y="256.7" font-size="14" fill="#1c1c1c" stroke="#1c1c1c" stroke-width="0.45" text-anchor="middle" textLength="26" lengthAdjust="spacingAndGlyphs">180°</text>
<text x="981.5" y="692" font-size="14" fill="#1c1c1c" stroke="#1c1c1c" stroke-width="0.45" text-anchor="middle" textLength="13" lengthAdjust="spacingAndGlyphs">0°</text>
<text x="773" y="374.99" font-size="14" fill="#1c1c1c" stroke="#1c1c1c" stroke-width="0.45" text-anchor="end" textLength="20" lengthAdjust="spacingAndGlyphs">90°</text>
<text x="1192.4" y="374.99" font-size="14" fill="#1c1c1c" stroke="#1c1c1c" stroke-width="0.45" textLength="20" lengthAdjust="spacingAndGlyphs">90°</text>
</g>
<g>
<clipPath id="cb2"><rect x="1921.5" y="269.8" width="404" height="404"/></clipPath>
<g clip-path="url(#cb2)">
<rect x="1921.5" y="269.8" width="404" height="404" fill="#fff"/>
<g transform="translate(2123.5,371.49)"><path d="M0,0L138.98,0C143.08,0.54 149.49,1.43 153.09,3.24C156.7,5.05 158.46,7.44 160.62,10.87C162.78,14.3 164.97,19.14 166.05,23.83C167.13,28.51 167.46,34.47 167.1,38.98C166.73,43.49 166.02,46.75 163.86,50.89C161.7,55.04 158.63,59.7 154.14,63.85C149.64,67.99 143.03,72.52 136.89,75.76C130.76,79 124.22,81.49 117.35,83.29C110.49,85.08 102.93,86.16 95.72,86.53C88.51,86.89 81.3,86.73 74.09,85.48C66.88,84.23 59.67,81.89 52.46,79C45.25,76.11 37.13,71.2 30.83,68.13C24.52,65.07 19.49,64.04 14.63,60.61C9.77,57.18 5.47,51.88 1.67,47.55C-2.12,43.21 -5.97,39.27 -8.15,34.59C-10.33,29.9 -11.58,24.12 -11.39,19.44C-11.2,14.75 -8.9,9.72 -7,6.48C-5.1,3.24 -1.17,1.08 0,0Z" fill="#f1eb7f"/><circle cx="4.51" cy="22.56" r="23.04" fill="#f1eb7f"/></g>
<g stroke="#454545" stroke-width="1.25" fill="none">
<line x1="2123.5" y1="-436.51" x2="2123.5" y2="1179.49"/>
<line x1="1914.37" y1="-408.98" x2="2332.63" y2="1151.95"/>
<line x1="1719.5" y1="-328.26" x2="2527.5" y2="1071.24"/>
<line x1="1552.16" y1="-199.86" x2="2694.84" y2="942.83"/>
<line x1="1423.75" y1="-32.51" x2="2823.25" y2="775.49"/>
<line x1="1343.03" y1="162.36" x2="2903.97" y2="580.61"/>
<line x1="1315.5" y1="371.49" x2="2931.5" y2="371.49"/>
<line x1="1343.03" y1="580.61" x2="2903.97" y2="162.36"/>
<line x1="1423.75" y1="775.49" x2="2823.25" y2="-32.51"/>
<line x1="1552.16" y1="942.83" x2="2694.84" y2="-199.86"/>
<line x1="1719.5" y1="1071.24" x2="2527.5" y2="-328.26"/>
<line x1="1914.37" y1="1151.95" x2="2332.63" y2="-408.98"/>
<circle cx="2123.5" cy="371.49" r="60.8"/>
<circle cx="2123.5" cy="371.49" r="121.6"/>
<circle cx="2123.5" cy="371.49" r="182.4"/>
<circle cx="2123.5" cy="371.49" r="243.2"/>
<circle cx="2123.5" cy="371.49" r="304"/>
</g>
<g transform="translate(2123.5,371.49)"><circle cx="4.51" cy="22.56" r="23.04" fill="none" stroke="#e8716e" stroke-width="1.1"/><path d="M0,0L138.98,0C143.08,0.54 149.49,1.43 153.09,3.24C156.7,5.05 158.46,7.44 160.62,10.87C162.78,14.3 164.97,19.14 166.05,23.83C167.13,28.51 167.46,34.47 167.1,38.98C166.73,43.49 166.02,46.75 163.86,50.89C161.7,55.04 158.63,59.7 154.14,63.85C149.64,67.99 143.03,72.52 136.89,75.76C130.76,79 124.22,81.49 117.35,83.29C110.49,85.08 102.93,86.16 95.72,86.53C88.51,86.89 81.3,86.73 74.09,85.48C66.88,84.23 59.67,81.89 52.46,79C45.25,76.11 37.13,71.2 30.83,68.13C24.52,65.07 19.49,64.04 14.63,60.61C9.77,57.18 5.47,51.88 1.67,47.55C-2.12,43.21 -5.97,39.27 -8.15,34.59C-10.33,29.9 -11.58,24.12 -11.39,19.44C-11.2,14.75 -8.9,9.72 -7,6.48C-5.1,3.24 -1.17,1.08 0,0Z" fill="none" stroke="#6c6cc0" stroke-width="1.1"/></g>
<circle cx="2123.5" cy="371.49" r="2.6" fill="#111"/>
<rect x="1921.5" y="638.8" width="130" height="35" fill="#fff"/>
</g>
<rect x="1921.5" y="269.8" width="404" height="404" fill="none" stroke="#9a9a9a" stroke-width="2.4"/>
<text x="2124" y="308.19" font-size="14" fill="#1c1c1c" stroke="#1c1c1c" stroke-width="0.45">200</text>
<text x="2124" y="429.79" font-size="14" fill="#1c1c1c" stroke="#1c1c1c" stroke-width="0.45">200</text>
<text x="2124" y="490.59" font-size="14" fill="#1c1c1c" stroke="#1c1c1c" stroke-width="0.45">400</text>
<text x="2124" y="551.39" font-size="14" fill="#1c1c1c" stroke="#1c1c1c" stroke-width="0.45">600</text>
<text x="2124" y="612.19" font-size="14" fill="#1c1c1c" stroke="#1c1c1c" stroke-width="0.45">800</text>
<text x="2124" y="672.99" font-size="14" fill="#1c1c1c" stroke="#1c1c1c" stroke-width="0.45">1000</text>
<text x="1926.9" y="652.3" font-size="13.5" fill="#1c1c1c" stroke="#1c1c1c" stroke-width="0.45" textLength="32.5" lengthAdjust="spacingAndGlyphs">180.0</text>
<text x="1926.5" y="670.5" font-size="13.5" fill="#1c1c1c" stroke="#1c1c1c" stroke-width="0.45" textLength="33" lengthAdjust="spacingAndGlyphs">270.0</text>
<text x="2023.3" y="652.3" font-size="13.5" fill="#1c1c1c" stroke="#1c1c1c" stroke-width="0.45" textLength="17.5" lengthAdjust="spacingAndGlyphs">0.0</text>
<text x="2023.3" y="670.5" font-size="13.5" fill="#1c1c1c" stroke="#1c1c1c" stroke-width="0.45" textLength="25.5" lengthAdjust="spacingAndGlyphs">90.0</text>
<line x1="1962.9" y1="648" x2="2020.1" y2="648" stroke="#e58f93" stroke-width="1.6"/>
<line x1="1962.9" y1="665.5" x2="2020.1" y2="665.5" stroke="#aeaedc" stroke-width="2.8"/>
<text x="2321.5" y="667.3" font-size="13.5" fill="#1c1c1c" stroke="#1c1c1c" stroke-width="0.45" textLength="39" lengthAdjust="spacingAndGlyphs" text-anchor="end">cd/klm</text>
<text x="2125" y="257.5" font-size="14" fill="#1c1c1c" stroke="#1c1c1c" stroke-width="0.45" text-anchor="middle" textLength="26" lengthAdjust="spacingAndGlyphs">180°</text>
<text x="2123" y="692.8" font-size="14" fill="#1c1c1c" stroke="#1c1c1c" stroke-width="0.45" text-anchor="middle" textLength="13" lengthAdjust="spacingAndGlyphs">0°</text>
<text x="1914.5" y="375.79" font-size="14" fill="#1c1c1c" stroke="#1c1c1c" stroke-width="0.45" text-anchor="end" textLength="20" lengthAdjust="spacingAndGlyphs">90°</text>
<text x="2333.9" y="375.79" font-size="14" fill="#1c1c1c" stroke="#1c1c1c" stroke-width="0.45" textLength="20" lengthAdjust="spacingAndGlyphs">90°</text>
</g>
<g>
<clipPath id="cb3"><rect x="780" y="827" width="404" height="404"/></clipPath>
<g clip-path="url(#cb3)">
<rect x="780" y="827" width="404" height="404" fill="#fff"/>
<g transform="translate(982,928.69)"><path d="M0,0C2.5,0.25 5,6.5 7.8,12C10.6,17.5 14.05,25.48 16.8,33C19.55,40.52 22.17,48.1 24.3,57.1C26.43,66.1 28.2,77 29.6,87C31,97 32,107.08 32.7,117.1C33.4,127.12 33.75,137.1 33.8,147.1C33.85,157.1 33.72,167.6 33,177.1C32.28,186.6 31.33,195.28 29.5,204.1C27.67,212.92 24.58,223.02 22,230C19.42,236.98 16.67,241.92 14,246C11.33,250.08 8.33,252.72 6,254.5C3.67,256.28 2.17,256.7 0,256.7C-2.17,256.7 -4.5,256.28 -7,254.5C-9.5,252.72 -12.25,249.75 -15,246C-17.75,242.25 -20.83,237.72 -23.5,232C-26.17,226.28 -28.83,219.58 -31,211.7C-33.17,203.82 -35.33,194.22 -36.5,184.7C-37.67,175.18 -38.13,165.87 -38,154.6C-37.87,143.33 -36.83,128.37 -35.7,117.1C-34.57,105.83 -33.2,97.52 -31.2,87C-29.2,76.48 -26.45,63.5 -23.7,54C-20.95,44.5 -17.45,37.25 -14.7,30C-11.95,22.75 -9.65,15.5 -7.2,10.5C-4.75,5.5 -2.5,-0.25 0,0Z" fill="#f1eb7f"/></g>
<g stroke="#454545" stroke-width="1.25" fill="none">
<line x1="982" y1="120.69" x2="982" y2="1736.69"/>
<line x1="772.87" y1="148.22" x2="1191.13" y2="1709.15"/>
<line x1="578" y1="228.94" x2="1386" y2="1628.44"/>
<line x1="410.66" y1="357.34" x2="1553.34" y2="1500.03"/>
<line x1="282.25" y1="524.69" x2="1681.75" y2="1332.69"/>
<line x1="201.53" y1="719.56" x2="1762.47" y2="1137.81"/>
<line x1="174" y1="928.69" x2="1790" y2="928.69"/>
<line x1="201.53" y1="1137.81" x2="1762.47" y2="719.56"/>
<line x1="282.25" y1="1332.69" x2="1681.75" y2="524.69"/>
<line x1="410.66" y1="1500.03" x2="1553.34" y2="357.34"/>
<line x1="578" y1="1628.44" x2="1386" y2="228.94"/>
<line x1="772.87" y1="1709.15" x2="1191.13" y2="148.22"/>
<circle cx="982" cy="928.69" r="60.8"/>
<circle cx="982" cy="928.69" r="121.6"/>
<circle cx="982" cy="928.69" r="182.4"/>
<circle cx="982" cy="928.69" r="243.2"/>
<circle cx="982" cy="928.69" r="304"/>
</g>
<g transform="translate(982,928.69)"><path d="M0,0C2.5,0.25 5,6.5 7.8,12C10.6,17.5 14.05,25.48 16.8,33C19.55,40.52 22.17,48.1 24.3,57.1C26.43,66.1 28.2,77 29.6,87C31,97 32,107.08 32.7,117.1C33.4,127.12 33.75,137.1 33.8,147.1C33.85,157.1 33.72,167.6 33,177.1C32.28,186.6 31.33,195.28 29.5,204.1C27.67,212.92 24.58,223.02 22,230C19.42,236.98 16.67,241.92 14,246C11.33,250.08 8.33,252.72 6,254.5C3.67,256.28 2.17,256.7 0,256.7C-2.17,256.7 -4.5,256.28 -7,254.5C-9.5,252.72 -12.25,249.75 -15,246C-17.75,242.25 -20.83,237.72 -23.5,232C-26.17,226.28 -28.83,219.58 -31,211.7C-33.17,203.82 -35.33,194.22 -36.5,184.7C-37.67,175.18 -38.13,165.87 -38,154.6C-37.87,143.33 -36.83,128.37 -35.7,117.1C-34.57,105.83 -33.2,97.52 -31.2,87C-29.2,76.48 -26.45,63.5 -23.7,54C-20.95,44.5 -17.45,37.25 -14.7,30C-11.95,22.75 -9.65,15.5 -7.2,10.5C-4.75,5.5 -2.5,-0.25 0,0Z" fill="none" stroke="#e8716e" stroke-width="1.1"/></g>
<circle cx="982" cy="928.69" r="2.6" fill="#111"/>
<rect x="780" y="1196" width="130" height="35" fill="#fff"/>
</g>
<rect x="780" y="827" width="404" height="404" fill="none" stroke="#8a8a8a" stroke-width="2"/>
<text x="982.5" y="865.39" font-size="14" fill="#1c1c1c" stroke="#1c1c1c" stroke-width="0.45">600</text>
<text x="982.5" y="986.99" font-size="14" fill="#1c1c1c" stroke="#1c1c1c" stroke-width="0.45">600</text>
<text x="982.5" y="1047.79" font-size="14" fill="#1c1c1c" stroke="#1c1c1c" stroke-width="0.45">1200</text>
<text x="982.5" y="1108.59" font-size="14" fill="#1c1c1c" stroke="#1c1c1c" stroke-width="0.45">1800</text>
<text x="982.5" y="1169.39" font-size="14" fill="#1c1c1c" stroke="#1c1c1c" stroke-width="0.45">2400</text>
<text x="982.5" y="1230.19" font-size="14" fill="#1c1c1c" stroke="#1c1c1c" stroke-width="0.45">3000</text>
<text x="785.4" y="1209.5" font-size="13.5" fill="#1c1c1c" stroke="#1c1c1c" stroke-width="0.45" textLength="32.5" lengthAdjust="spacingAndGlyphs">180.0</text>
<text x="785" y="1227.7" font-size="13.5" fill="#1c1c1c" stroke="#1c1c1c" stroke-width="0.45" textLength="33" lengthAdjust="spacingAndGlyphs">270.0</text>
<text x="881.8" y="1209.5" font-size="13.5" fill="#1c1c1c" stroke="#1c1c1c" stroke-width="0.45" textLength="17.5" lengthAdjust="spacingAndGlyphs">0.0</text>
<text x="881.8" y="1227.7" font-size="13.5" fill="#1c1c1c" stroke="#1c1c1c" stroke-width="0.45" textLength="25.5" lengthAdjust="spacingAndGlyphs">90.0</text>
<line x1="821.4" y1="1205.2" x2="878.6" y2="1205.2" stroke="#e58f93" stroke-width="1.6"/>
<line x1="821.4" y1="1222.7" x2="878.6" y2="1222.7" stroke="#aeaedc" stroke-width="2.8"/>
<text x="1180" y="1224.5" font-size="13.5" fill="#1c1c1c" stroke="#1c1c1c" stroke-width="0.45" textLength="39" lengthAdjust="spacingAndGlyphs" text-anchor="end">cd/klm</text>
<text x="983.5" y="814.7" font-size="14" fill="#1c1c1c" stroke="#1c1c1c" stroke-width="0.45" text-anchor="middle" textLength="26" lengthAdjust="spacingAndGlyphs">180°</text>
<text x="981.5" y="1250" font-size="14" fill="#1c1c1c" stroke="#1c1c1c" stroke-width="0.45" text-anchor="middle" textLength="13" lengthAdjust="spacingAndGlyphs">0°</text>
<text x="773" y="932.99" font-size="14" fill="#1c1c1c" stroke="#1c1c1c" stroke-width="0.45" text-anchor="end" textLength="20" lengthAdjust="spacingAndGlyphs">90°</text>
<text x="1192.4" y="932.99" font-size="14" fill="#1c1c1c" stroke="#1c1c1c" stroke-width="0.45" textLength="20" lengthAdjust="spacingAndGlyphs">90°</text>
</g>
<g>
<clipPath id="cb4"><rect x="1927.4" y="842.2" width="392" height="392"/></clipPath>
<g clip-path="url(#cb4)">
<rect x="1927.4" y="842.2" width="392" height="392" fill="#fff"/>
<g transform="translate(2123.4,1038.2)"><path d="M0,-14C1,-16 2.63,-25.63 4.9,-31C7.17,-36.37 10.33,-41.85 13.6,-46.2C16.87,-50.55 19.97,-53.48 24.5,-57.1C29.03,-60.72 34.47,-64.65 40.8,-67.9C47.13,-71.15 54.35,-74.6 62.5,-76.6C70.65,-78.6 81.55,-79.45 89.7,-79.9C97.85,-80.35 104.15,-80.38 111.4,-79.3C118.65,-78.22 125.95,-76.02 133.2,-73.4C140.45,-70.78 148.93,-67.23 154.9,-63.6C160.87,-59.97 165.02,-56.32 169,-51.6C172.98,-46.88 176.43,-40.55 178.8,-35.3C181.17,-30.05 182.2,-25.98 183.2,-20.1C184.2,-14.22 184.8,-5.52 184.8,0C184.8,5.52 184.57,8.28 183.2,13C181.83,17.72 179.15,23.58 176.6,28.3C174.05,33.02 170.25,37.32 167.9,41.3C165.55,45.28 163.77,47.85 162.5,52.2C161.23,56.55 161.2,61.25 160.3,67.4C159.4,73.55 158.73,82.22 157.1,89.1C155.47,95.98 153.05,102.9 150.5,108.7C147.95,114.5 145.23,118.83 141.8,123.9C138.37,128.97 134.42,134.75 129.9,139.1C125.38,143.45 120.32,147 114.7,150C109.08,153 102.18,155.57 96.2,157.1C90.22,158.63 84.42,159.12 78.8,159.2C73.18,159.28 68.3,158.95 62.5,157.6C56.7,156.25 49.8,153.45 44,151.1C38.2,148.75 31.87,145.05 27.7,143.5C23.53,141.95 21.72,141.8 19,141.8C16.28,141.8 14.57,143.03 11.4,143.5C8.23,143.97 4.07,144.42 0,144.6C-4.07,144.78 -9.02,144.42 -13,144.6C-16.98,144.78 -20.27,144.8 -23.9,145.7C-27.53,146.6 -30.27,148.02 -34.8,150C-39.33,151.98 -45.85,155.43 -51.1,157.6C-56.35,159.77 -61.42,162.17 -66.3,163C-71.18,163.83 -75.68,162.95 -80.4,162.6C-85.12,162.25 -90.07,162.28 -94.6,160.9C-99.13,159.52 -102.9,157.57 -107.6,154.3C-112.3,151.03 -118.08,146.18 -122.8,141.3C-127.52,136.42 -132.27,130.8 -135.9,125C-139.53,119.2 -142.25,112.48 -144.6,106.5C-146.95,100.52 -148.38,95.25 -150,89.1C-151.62,82.95 -152.67,75.03 -154.3,69.6C-155.93,64.17 -157.25,60.85 -159.8,56.5C-162.35,52.15 -166.7,48.38 -169.6,43.5C-172.5,38.62 -175.22,32.28 -177.2,27.2C-179.18,22.12 -180.53,17.53 -181.5,13C-182.47,8.47 -183.53,4.8 -183,0C-182.47,-4.8 -179.82,-10.63 -178.3,-15.8C-176.78,-20.97 -176.08,-26.48 -173.9,-31C-171.72,-35.52 -168.47,-38.92 -165.2,-42.9C-161.93,-46.88 -158.83,-51.45 -154.3,-54.9C-149.77,-58.35 -144.33,-60.97 -138,-63.6C-131.67,-66.23 -123.53,-68.72 -116.3,-70.7C-109.07,-72.68 -100.93,-74.78 -94.6,-75.5C-88.27,-76.22 -84.65,-75.63 -78.3,-75C-71.95,-74.37 -63.22,-73.23 -56.5,-71.7C-49.78,-70.17 -43.25,-68.23 -38,-65.8C-32.75,-63.37 -29.17,-60.37 -25,-57.1C-20.83,-53.83 -16.45,-50.55 -13,-46.2C-9.55,-41.85 -6.28,-35.53 -4.3,-31C-2.32,-26.47 -1.82,-21.83 -1.1,-19C-0.38,-16.17 -1,-12 0,-14Z" fill="#f1eb7f"/></g>
<g stroke="#454545" stroke-width="1.25" fill="none">
<line x1="2123.4" y1="254.2" x2="2123.4" y2="1822.2"/>
<line x1="1920.49" y1="280.91" x2="2326.31" y2="1795.49"/>
<line x1="1731.4" y1="359.24" x2="2515.4" y2="1717.16"/>
<line x1="1569.03" y1="483.83" x2="2677.77" y2="1592.57"/>
<line x1="1444.44" y1="646.2" x2="2802.36" y2="1430.2"/>
<line x1="1366.11" y1="835.29" x2="2880.69" y2="1241.11"/>
<line x1="1339.4" y1="1038.2" x2="2907.4" y2="1038.2"/>
<line x1="1366.11" y1="1241.11" x2="2880.69" y2="835.29"/>
<line x1="1444.44" y1="1430.2" x2="2802.36" y2="646.2"/>
<line x1="1569.03" y1="1592.57" x2="2677.77" y2="483.83"/>
<line x1="1731.4" y1="1717.16" x2="2515.4" y2="359.24"/>
<line x1="1920.49" y1="1795.49" x2="2326.31" y2="280.91"/>
<circle cx="2123.4" cy="1038.2" r="59.1"/>
<circle cx="2123.4" cy="1038.2" r="118.2"/>
<circle cx="2123.4" cy="1038.2" r="177.3"/>
<circle cx="2123.4" cy="1038.2" r="236.4"/>
</g>
<g transform="translate(2123.4,1038.2)"><path d="M0,-14C1,-16 2.63,-25.63 4.9,-31C7.17,-36.37 10.33,-41.85 13.6,-46.2C16.87,-50.55 19.97,-53.48 24.5,-57.1C29.03,-60.72 34.47,-64.65 40.8,-67.9C47.13,-71.15 54.35,-74.6 62.5,-76.6C70.65,-78.6 81.55,-79.45 89.7,-79.9C97.85,-80.35 104.15,-80.38 111.4,-79.3C118.65,-78.22 125.95,-76.02 133.2,-73.4C140.45,-70.78 148.93,-67.23 154.9,-63.6C160.87,-59.97 165.02,-56.32 169,-51.6C172.98,-46.88 176.43,-40.55 178.8,-35.3C181.17,-30.05 182.2,-25.98 183.2,-20.1C184.2,-14.22 184.8,-5.52 184.8,0C184.8,5.52 184.57,8.28 183.2,13C181.83,17.72 179.15,23.58 176.6,28.3C174.05,33.02 170.25,37.32 167.9,41.3C165.55,45.28 163.77,47.85 162.5,52.2C161.23,56.55 161.2,61.25 160.3,67.4C159.4,73.55 158.73,82.22 157.1,89.1C155.47,95.98 153.05,102.9 150.5,108.7C147.95,114.5 145.23,118.83 141.8,123.9C138.37,128.97 134.42,134.75 129.9,139.1C125.38,143.45 120.32,147 114.7,150C109.08,153 102.18,155.57 96.2,157.1C90.22,158.63 84.42,159.12 78.8,159.2C73.18,159.28 68.3,158.95 62.5,157.6C56.7,156.25 49.8,153.45 44,151.1C38.2,148.75 31.87,145.05 27.7,143.5C23.53,141.95 21.72,141.8 19,141.8C16.28,141.8 14.57,143.03 11.4,143.5C8.23,143.97 4.07,144.42 0,144.6C-4.07,144.78 -9.02,144.42 -13,144.6C-16.98,144.78 -20.27,144.8 -23.9,145.7C-27.53,146.6 -30.27,148.02 -34.8,150C-39.33,151.98 -45.85,155.43 -51.1,157.6C-56.35,159.77 -61.42,162.17 -66.3,163C-71.18,163.83 -75.68,162.95 -80.4,162.6C-85.12,162.25 -90.07,162.28 -94.6,160.9C-99.13,159.52 -102.9,157.57 -107.6,154.3C-112.3,151.03 -118.08,146.18 -122.8,141.3C-127.52,136.42 -132.27,130.8 -135.9,125C-139.53,119.2 -142.25,112.48 -144.6,106.5C-146.95,100.52 -148.38,95.25 -150,89.1C-151.62,82.95 -152.67,75.03 -154.3,69.6C-155.93,64.17 -157.25,60.85 -159.8,56.5C-162.35,52.15 -166.7,48.38 -169.6,43.5C-172.5,38.62 -175.22,32.28 -177.2,27.2C-179.18,22.12 -180.53,17.53 -181.5,13C-182.47,8.47 -183.53,4.8 -183,0C-182.47,-4.8 -179.82,-10.63 -178.3,-15.8C-176.78,-20.97 -176.08,-26.48 -173.9,-31C-171.72,-35.52 -168.47,-38.92 -165.2,-42.9C-161.93,-46.88 -158.83,-51.45 -154.3,-54.9C-149.77,-58.35 -144.33,-60.97 -138,-63.6C-131.67,-66.23 -123.53,-68.72 -116.3,-70.7C-109.07,-72.68 -100.93,-74.78 -94.6,-75.5C-88.27,-76.22 -84.65,-75.63 -78.3,-75C-71.95,-74.37 -63.22,-73.23 -56.5,-71.7C-49.78,-70.17 -43.25,-68.23 -38,-65.8C-32.75,-63.37 -29.17,-60.37 -25,-57.1C-20.83,-53.83 -16.45,-50.55 -13,-46.2C-9.55,-41.85 -6.28,-35.53 -4.3,-31C-2.32,-26.47 -1.82,-21.83 -1.1,-19C-0.38,-16.17 -1,-12 0,-14Z" fill="none" stroke="#e8716e" stroke-width="1.1"/><path d="M0,-13.79C0.97,-15.68 2.55,-24.9 4.75,-30.07C6.95,-35.24 10.02,-40.59 13.19,-44.81C16.36,-49.03 19.37,-51.88 23.77,-55.39C28.16,-58.9 33.43,-62.71 39.58,-65.86C45.72,-69.02 52.72,-72.36 60.62,-74.3C68.53,-76.24 79.1,-77.07 87.01,-77.5C94.91,-77.94 101.03,-77.97 108.06,-76.92C115.09,-75.87 122.17,-73.74 129.2,-71.2C136.24,-68.66 144.47,-65.22 150.25,-61.69C156.04,-58.17 160.07,-54.63 163.93,-50.05C167.79,-45.48 171.14,-39.33 173.44,-34.24C175.73,-29.15 176.73,-25.2 177.7,-19.5C178.67,-13.79 179.26,-5.35 179.26,0C179.26,5.35 179.03,8.03 177.7,12.61C176.38,17.19 173.78,22.88 171.3,27.45C168.83,32.03 165.14,36.2 162.86,40.06C160.58,43.92 158.85,46.41 157.62,50.63C156.4,54.85 156.36,59.41 155.49,65.38C154.62,71.34 153.97,79.75 152.39,86.43C150.8,93.1 148.46,99.81 145.98,105.44C143.51,111.06 140.88,115.27 137.55,120.18C134.22,125.1 130.38,130.71 126,134.93C121.62,139.15 116.71,142.59 111.26,145.5C105.81,148.41 99.12,150.9 93.31,152.39C87.51,153.87 81.88,154.34 76.44,154.42C70.99,154.5 66.25,154.18 60.62,152.87C55,151.56 48.31,148.85 42.68,146.57C37.05,144.29 30.91,140.7 26.87,139.19C22.83,137.69 21.07,137.55 18.43,137.55C15.79,137.55 14.13,138.38 11.06,139.19C7.99,140.01 3.98,141.89 0,142.43C-3.98,142.97 -8.88,142.25 -12.8,142.43C-16.73,142.61 -19.96,142.63 -23.54,143.51C-27.12,144.4 -29.81,145.8 -34.28,147.75C-38.74,149.7 -45.16,153.1 -50.33,155.24C-55.5,157.37 -60.5,159.73 -65.31,160.56C-70.12,161.38 -74.55,160.51 -79.19,160.16C-83.84,159.82 -88.72,159.85 -93.18,158.49C-97.65,157.12 -101.36,155.2 -105.99,151.99C-110.62,148.77 -116.31,143.99 -120.96,139.18C-125.6,134.37 -130.28,128.84 -133.86,123.12C-137.44,117.41 -140.12,110.8 -142.43,104.9C-144.75,99.01 -146.16,93.82 -147.75,87.76C-149.34,81.71 -150.38,73.91 -151.99,68.56C-153.59,63.2 -154.89,59.94 -157.4,55.65C-159.91,51.37 -164.2,47.66 -167.06,42.85C-169.91,38.04 -172.59,31.8 -174.54,26.79C-176.5,21.78 -177.83,17.27 -178.78,12.8C-179.73,8.34 -180.78,4.73 -180.25,0C-179.73,-4.73 -177.12,-10.47 -175.63,-15.56C-174.13,-20.65 -173.44,-26.09 -171.29,-30.54C-169.14,-34.98 -165.94,-38.33 -162.72,-42.26C-159.5,-46.18 -156.45,-50.68 -151.99,-54.08C-147.52,-57.47 -142.17,-60.05 -135.93,-62.65C-129.69,-65.24 -121.68,-67.69 -114.56,-69.64C-107.43,-71.59 -99.42,-73.66 -93.18,-74.37C-86.94,-75.07 -83.38,-74.5 -77.13,-73.88C-70.87,-73.25 -62.27,-72.13 -55.65,-70.62C-49.04,-69.11 -42.6,-67.21 -37.43,-64.81C-32.26,-62.42 -28.73,-59.46 -24.62,-56.24C-20.52,-53.03 -16.2,-49.79 -12.8,-45.51C-9.41,-41.22 -6.19,-35 -4.24,-30.54C-2.28,-26.07 -1.79,-21.51 -1.08,-18.71C-0.38,-15.92 -0.97,-11.9 0,-13.79Z" fill="none" stroke="#6c6cc0" stroke-width="1.1"/></g>
<circle cx="2123.4" cy="1038.2" r="2.6" fill="#111"/>
<rect x="1927.4" y="1199.2" width="130" height="35" fill="#fff"/>
</g>
<rect x="1927.4" y="842.2" width="392" height="392" fill="none" stroke="#c0c0c0" stroke-width="2.2"/>
<text x="2123.9" y="976.6" font-size="14" fill="#1c1c1c" stroke="#1c1c1c" stroke-width="0.45">30</text>
<text x="2123.9" y="917.5" font-size="14" fill="#1c1c1c" stroke="#1c1c1c" stroke-width="0.45">60</text>
<text x="2123.9" y="858.4" font-size="14" fill="#1c1c1c" stroke="#1c1c1c" stroke-width="0.45">90</text>
<text x="2123.9" y="1094.8" font-size="14" fill="#1c1c1c" stroke="#1c1c1c" stroke-width="0.45">30</text>
<text x="2123.9" y="1153.9" font-size="14" fill="#1c1c1c" stroke="#1c1c1c" stroke-width="0.45">60</text>
<text x="2123.9" y="1213" font-size="14" fill="#1c1c1c" stroke="#1c1c1c" stroke-width="0.45">90</text>
<text x="1932.8" y="1212.7" font-size="13.5" fill="#1c1c1c" stroke="#1c1c1c" stroke-width="0.45" textLength="32.5" lengthAdjust="spacingAndGlyphs">180.0</text>
<text x="1932.4" y="1230.9" font-size="13.5" fill="#1c1c1c" stroke="#1c1c1c" stroke-width="0.45" textLength="33" lengthAdjust="spacingAndGlyphs">270.0</text>
<text x="2029.2" y="1212.7" font-size="13.5" fill="#1c1c1c" stroke="#1c1c1c" stroke-width="0.45" textLength="17.5" lengthAdjust="spacingAndGlyphs">0.0</text>
<text x="2029.2" y="1230.9" font-size="13.5" fill="#1c1c1c" stroke="#1c1c1c" stroke-width="0.45" textLength="25.5" lengthAdjust="spacingAndGlyphs">90.0</text>
<line x1="1968.8" y1="1208.4" x2="2026" y2="1208.4" stroke="#e58f93" stroke-width="1.6"/>
<line x1="1968.8" y1="1225.9" x2="2026" y2="1225.9" stroke="#aeaedc" stroke-width="2.8"/>
<text x="2315.4" y="1227.7" font-size="13.5" fill="#1c1c1c" stroke="#1c1c1c" stroke-width="0.45" textLength="39" lengthAdjust="spacingAndGlyphs" text-anchor="end">cd/klm</text>
<text x="2124.9" y="829.9" font-size="14" fill="#1c1c1c" stroke="#1c1c1c" stroke-width="0.45" text-anchor="middle" textLength="26" lengthAdjust="spacingAndGlyphs">180°</text>
<text x="2122.9" y="1253.2" font-size="14" fill="#1c1c1c" stroke="#1c1c1c" stroke-width="0.45" text-anchor="middle" textLength="13" lengthAdjust="spacingAndGlyphs">0°</text>
<text x="1920.4" y="1042.5" font-size="14" fill="#1c1c1c" stroke="#1c1c1c" stroke-width="0.45" text-anchor="end" textLength="20" lengthAdjust="spacingAndGlyphs">90°</text>
<text x="2327.8" y="1042.5" font-size="14" fill="#1c1c1c" stroke="#1c1c1c" stroke-width="0.45" textLength="20" lengthAdjust="spacingAndGlyphs">90°</text>
</g>
<g>
<clipPath id="cb5"><rect x="796.3" y="1399.3" width="372.5" height="372.5"/></clipPath>
<g clip-path="url(#cb5)">
<rect x="796.3" y="1399.3" width="372.5" height="372.5" fill="#fff"/>
<g transform="translate(982.55,1585.55)"><path d="M0,-13.22C0.94,-15.11 2.49,-24.2 4.63,-29.27C6.77,-34.34 9.76,-39.51 12.84,-43.62C15.92,-47.73 18.85,-50.5 23.13,-53.91C27.41,-57.33 32.54,-61.04 38.52,-64.11C44.5,-67.18 51.32,-70.43 59.01,-72.32C66.71,-74.21 77,-75.01 84.69,-75.44C92.39,-75.86 98.33,-75.89 105.18,-74.87C112.02,-73.85 118.92,-71.77 125.76,-69.3C132.61,-66.83 140.62,-63.48 146.25,-60.05C151.88,-56.62 155.8,-53.17 159.56,-48.72C163.32,-44.27 166.58,-38.29 168.82,-33.33C171.05,-28.37 172.03,-24.53 172.97,-18.98C173.91,-13.42 174.48,-5.21 174.48,0C174.48,5.21 174.26,7.82 172.97,12.27C171.68,16.73 169.15,22.27 166.74,26.72C164.33,31.17 160.74,35.23 158.52,38.99C156.31,42.75 154.62,45.18 153.43,49.29C152.23,53.39 152.2,57.83 151.35,63.64C150.5,69.44 149.87,77.63 148.33,84.12C146.79,90.62 144.5,97.15 142.1,102.63C139.69,108.11 137.12,112.2 133.88,116.98C130.64,121.77 126.91,127.23 122.65,131.33C118.38,135.44 113.6,138.79 108.3,141.62C102.99,144.46 96.48,146.88 90.83,148.33C85.18,149.78 79.7,150.23 74.4,150.31C69.1,150.39 64.49,150.07 59.01,148.8C53.53,147.53 47.02,144.88 41.54,142.66C36.07,140.44 30.09,136.95 26.15,135.49C22.22,134.02 20.5,133.88 17.94,133.88C15.37,133.88 13.75,135.05 10.76,135.49C7.77,135.93 3.84,136.35 0,136.53C-3.84,136.7 -8.51,136.35 -12.27,136.53C-16.04,136.7 -19.14,136.71 -22.57,137.56C-26,138.41 -28.58,139.75 -32.86,141.62C-37.14,143.5 -43.29,146.75 -48.25,148.8C-53.2,150.85 -57.99,153.11 -62.6,153.9C-67.21,154.69 -71.46,153.85 -75.91,153.52C-80.36,153.19 -85.04,153.22 -89.32,151.92C-93.6,150.61 -97.15,148.77 -101.59,145.68C-106.03,142.6 -111.49,138.02 -115.94,133.41C-120.4,128.8 -124.88,123.5 -128.31,118.02C-131.74,112.54 -134.31,106.2 -136.53,100.55C-138.74,94.9 -140.1,89.93 -141.62,84.12C-143.15,78.32 -144.14,70.84 -145.68,65.71C-147.23,60.58 -148.47,57.45 -150.88,53.35C-153.28,49.24 -157.39,45.68 -160.13,41.07C-162.87,36.46 -165.43,30.48 -167.31,25.68C-169.18,20.88 -170.45,16.55 -171.37,12.27C-172.28,7.99 -173.29,4.53 -172.78,0C-172.28,-4.53 -169.78,-10.04 -168.34,-14.92C-166.91,-19.8 -166.25,-25 -164.19,-29.27C-162.13,-33.53 -159.06,-36.74 -155.98,-40.5C-152.89,-44.27 -149.96,-48.58 -145.68,-51.83C-141.4,-55.09 -136.27,-57.56 -130.29,-60.05C-124.31,-62.54 -116.64,-64.88 -109.81,-66.75C-102.98,-68.62 -95.3,-70.61 -89.32,-71.28C-83.34,-71.96 -79.92,-71.41 -73.93,-70.81C-67.93,-70.21 -59.69,-69.14 -53.35,-67.7C-47,-66.25 -40.84,-64.42 -35.88,-62.13C-30.92,-59.83 -27.54,-57 -23.6,-53.91C-19.67,-50.83 -15.53,-47.73 -12.27,-43.62C-9.02,-39.51 -5.93,-33.55 -4.06,-29.27C-2.19,-24.99 -1.72,-20.61 -1.04,-17.94C-0.36,-15.26 -0.94,-11.33 0,-13.22Z" fill="#f1eb7f"/></g>
<g stroke="#454545" stroke-width="1.25" fill="none">
<line x1="982.55" y1="840.55" x2="982.55" y2="2330.55"/>
<line x1="789.73" y1="865.94" x2="1175.37" y2="2305.16"/>
<line x1="610.05" y1="940.36" x2="1355.05" y2="2230.74"/>
<line x1="455.76" y1="1058.76" x2="1509.34" y2="2112.34"/>
<line x1="337.36" y1="1213.05" x2="1627.74" y2="1958.05"/>
<line x1="262.94" y1="1392.73" x2="1702.16" y2="1778.37"/>
<line x1="237.55" y1="1585.55" x2="1727.55" y2="1585.55"/>
<line x1="262.94" y1="1778.37" x2="1702.16" y2="1392.73"/>
<line x1="337.36" y1="1958.05" x2="1627.74" y2="1213.05"/>
<line x1="455.76" y1="2112.34" x2="1509.34" y2="1058.76"/>
<line x1="610.05" y1="2230.74" x2="1355.05" y2="940.36"/>
<line x1="789.73" y1="2305.16" x2="1175.37" y2="865.94"/>
<circle cx="982.55" cy="1585.55" r="55.8"/>
<circle cx="982.55" cy="1585.55" r="111.6"/>
<circle cx="982.55" cy="1585.55" r="167.4"/>
<circle cx="982.55" cy="1585.55" r="223.2"/>
</g>
<g transform="translate(982.55,1585.55)"><path d="M0,-13.22C0.94,-15.11 2.49,-24.2 4.63,-29.27C6.77,-34.34 9.76,-39.51 12.84,-43.62C15.92,-47.73 18.85,-50.5 23.13,-53.91C27.41,-57.33 32.54,-61.04 38.52,-64.11C44.5,-67.18 51.32,-70.43 59.01,-72.32C66.71,-74.21 77,-75.01 84.69,-75.44C92.39,-75.86 98.33,-75.89 105.18,-74.87C112.02,-73.85 118.92,-71.77 125.76,-69.3C132.61,-66.83 140.62,-63.48 146.25,-60.05C151.88,-56.62 155.8,-53.17 159.56,-48.72C163.32,-44.27 166.58,-38.29 168.82,-33.33C171.05,-28.37 172.03,-24.53 172.97,-18.98C173.91,-13.42 174.48,-5.21 174.48,0C174.48,5.21 174.26,7.82 172.97,12.27C171.68,16.73 169.15,22.27 166.74,26.72C164.33,31.17 160.74,35.23 158.52,38.99C156.31,42.75 154.62,45.18 153.43,49.29C152.23,53.39 152.2,57.83 151.35,63.64C150.5,69.44 149.87,77.63 148.33,84.12C146.79,90.62 144.5,97.15 142.1,102.63C139.69,108.11 137.12,112.2 133.88,116.98C130.64,121.77 126.91,127.23 122.65,131.33C118.38,135.44 113.6,138.79 108.3,141.62C102.99,144.46 96.48,146.88 90.83,148.33C85.18,149.78 79.7,150.23 74.4,150.31C69.1,150.39 64.49,150.07 59.01,148.8C53.53,147.53 47.02,144.88 41.54,142.66C36.07,140.44 30.09,136.95 26.15,135.49C22.22,134.02 20.5,133.88 17.94,133.88C15.37,133.88 13.75,135.05 10.76,135.49C7.77,135.93 3.84,136.35 0,136.53C-3.84,136.7 -8.51,136.35 -12.27,136.53C-16.04,136.7 -19.14,136.71 -22.57,137.56C-26,138.41 -28.58,139.75 -32.86,141.62C-37.14,143.5 -43.29,146.75 -48.25,148.8C-53.2,150.85 -57.99,153.11 -62.6,153.9C-67.21,154.69 -71.46,153.85 -75.91,153.52C-80.36,153.19 -85.04,153.22 -89.32,151.92C-93.6,150.61 -97.15,148.77 -101.59,145.68C-106.03,142.6 -111.49,138.02 -115.94,133.41C-120.4,128.8 -124.88,123.5 -128.31,118.02C-131.74,112.54 -134.31,106.2 -136.53,100.55C-138.74,94.9 -140.1,89.93 -141.62,84.12C-143.15,78.32 -144.14,70.84 -145.68,65.71C-147.23,60.58 -148.47,57.45 -150.88,53.35C-153.28,49.24 -157.39,45.68 -160.13,41.07C-162.87,36.46 -165.43,30.48 -167.31,25.68C-169.18,20.88 -170.45,16.55 -171.37,12.27C-172.28,7.99 -173.29,4.53 -172.78,0C-172.28,-4.53 -169.78,-10.04 -168.34,-14.92C-166.91,-19.8 -166.25,-25 -164.19,-29.27C-162.13,-33.53 -159.06,-36.74 -155.98,-40.5C-152.89,-44.27 -149.96,-48.58 -145.68,-51.83C-141.4,-55.09 -136.27,-57.56 -130.29,-60.05C-124.31,-62.54 -116.64,-64.88 -109.81,-66.75C-102.98,-68.62 -95.3,-70.61 -89.32,-71.28C-83.34,-71.96 -79.92,-71.41 -73.93,-70.81C-67.93,-70.21 -59.69,-69.14 -53.35,-67.7C-47,-66.25 -40.84,-64.42 -35.88,-62.13C-30.92,-59.83 -27.54,-57 -23.6,-53.91C-19.67,-50.83 -15.53,-47.73 -12.27,-43.62C-9.02,-39.51 -5.93,-33.55 -4.06,-29.27C-2.19,-24.99 -1.72,-20.61 -1.04,-17.94C-0.36,-15.26 -0.94,-11.33 0,-13.22Z" fill="none" stroke="#e8716e" stroke-width="1.1"/><path d="M0,-13.02C0.92,-14.81 2.41,-23.51 4.49,-28.39C6.56,-33.27 9.46,-38.33 12.46,-42.31C15.45,-46.3 18.29,-48.98 22.44,-52.29C26.59,-55.61 31.57,-59.21 37.37,-62.19C43.17,-65.16 49.78,-68.32 57.24,-70.15C64.7,-71.98 74.69,-72.76 82.15,-73.18C89.61,-73.59 95.38,-73.62 102.02,-72.63C108.66,-71.63 115.35,-69.62 121.99,-67.22C128.63,-64.83 136.4,-61.57 141.86,-58.25C147.33,-54.92 151.13,-51.58 154.78,-47.26C158.42,-42.94 161.58,-37.14 163.75,-32.33C165.92,-27.52 166.87,-23.8 167.78,-18.41C168.7,-13.02 169.25,-5.05 169.25,0C169.25,5.05 169.03,7.59 167.78,11.91C166.53,16.23 164.07,21.6 161.74,25.92C159.4,30.24 155.92,34.18 153.77,37.82C151.62,41.47 149.98,43.82 148.82,47.81C147.66,51.79 147.63,56.1 146.81,61.73C145.98,67.36 145.37,75.3 143.88,81.6C142.38,87.91 140.17,94.24 137.83,99.55C135.5,104.86 133.01,108.83 129.87,113.47C126.72,118.11 123.1,123.41 118.97,127.39C114.83,131.38 110.19,134.63 105.05,137.38C99.9,140.12 93.58,142.47 88.1,143.88C82.62,145.28 77.31,145.73 72.17,145.8C67.02,145.88 62.55,145.57 57.24,144.34C51.93,143.1 45.61,140.54 40.3,138.38C34.98,136.23 29.18,132.84 25.37,131.42C21.55,130 19.89,129.87 17.4,129.87C14.91,129.87 13.34,130.65 10.44,131.42C7.54,132.19 3.76,133.97 0,134.48C-3.76,134.99 -8.39,134.31 -12.09,134.48C-15.79,134.65 -18.85,134.66 -22.23,135.5C-25.61,136.34 -28.15,137.66 -32.36,139.5C-36.58,141.34 -42.64,144.55 -47.52,146.57C-52.41,148.58 -57.12,150.81 -61.66,151.59C-66.2,152.36 -70.39,151.54 -74.77,151.22C-79.16,150.89 -83.76,150.92 -87.98,149.64C-92.19,148.35 -95.7,146.54 -100.07,143.5C-104.44,140.46 -109.82,135.95 -114.2,131.41C-118.59,126.87 -123.01,121.64 -126.39,116.25C-129.77,110.86 -132.29,104.61 -134.48,99.04C-136.66,93.48 -138,88.58 -139.5,82.86C-141,77.14 -141.98,69.78 -143.5,64.73C-145.02,59.67 -146.24,56.59 -148.61,52.54C-150.99,48.5 -155.03,45 -157.73,40.45C-160.42,35.91 -162.95,30.02 -164.8,25.3C-166.64,20.57 -167.9,16.31 -168.79,12.09C-169.69,7.87 -170.69,4.46 -170.19,0C-169.69,-4.46 -167.23,-9.89 -165.82,-14.69C-164.41,-19.5 -163.76,-24.63 -161.73,-28.83C-159.7,-33.03 -156.67,-36.19 -153.64,-39.9C-150.6,-43.6 -147.72,-47.85 -143.5,-51.06C-139.28,-54.27 -134.23,-56.7 -128.34,-59.15C-122.45,-61.6 -114.89,-63.91 -108.16,-65.75C-101.43,-67.6 -93.87,-69.55 -87.98,-70.21C-82.09,-70.88 -78.72,-70.34 -72.82,-69.75C-66.91,-69.16 -58.79,-68.11 -52.54,-66.68C-46.3,-65.25 -40.22,-63.46 -35.34,-61.19C-30.46,-58.93 -27.12,-56.14 -23.25,-53.1C-19.37,-50.07 -15.3,-47.01 -12.09,-42.97C-8.88,-38.92 -5.84,-33.05 -4,-28.83C-2.15,-24.61 -1.69,-20.3 -1.02,-17.67C-0.36,-15.03 -0.92,-11.23 0,-13.02Z" fill="none" stroke="#6c6cc0" stroke-width="1.1"/></g>
<circle cx="982.55" cy="1585.55" r="2.6" fill="#111"/>
<rect x="796.3" y="1738.55" width="123.5" height="33.25" fill="#fff"/>
</g>
<rect x="796.3" y="1399.3" width="372.5" height="372.5" fill="none" stroke="#8a8a8a" stroke-width="1.6"/>
<text x="983.05" y="1527.38" font-size="13.3" fill="#1c1c1c" stroke="#1c1c1c" stroke-width="0.45">30</text>
<text x="983.05" y="1471.58" font-size="13.3" fill="#1c1c1c" stroke="#1c1c1c" stroke-width="0.45">60</text>
<text x="983.05" y="1415.78" font-size="13.3" fill="#1c1c1c" stroke="#1c1c1c" stroke-width="0.45">90</text>
<text x="983.05" y="1638.97" font-size="13.3" fill="#1c1c1c" stroke="#1c1c1c" stroke-width="0.45">30</text>
<text x="983.05" y="1694.77" font-size="13.3" fill="#1c1c1c" stroke="#1c1c1c" stroke-width="0.45">60</text>
<text x="983.05" y="1750.57" font-size="13.3" fill="#1c1c1c" stroke="#1c1c1c" stroke-width="0.45">90</text>
<text x="801.43" y="1751.38" font-size="12.82" fill="#1c1c1c" stroke="#1c1c1c" stroke-width="0.45" textLength="30.88" lengthAdjust="spacingAndGlyphs">180.0</text>
<text x="801.05" y="1768.66" font-size="12.82" fill="#1c1c1c" stroke="#1c1c1c" stroke-width="0.45" textLength="31.35" lengthAdjust="spacingAndGlyphs">270.0</text>
<text x="893.01" y="1751.38" font-size="12.82" fill="#1c1c1c" stroke="#1c1c1c" stroke-width="0.45" textLength="16.62" lengthAdjust="spacingAndGlyphs">0.0</text>
<text x="893.01" y="1768.66" font-size="12.82" fill="#1c1c1c" stroke="#1c1c1c" stroke-width="0.45" textLength="24.22" lengthAdjust="spacingAndGlyphs">90.0</text>
<line x1="835.63" y1="1747.29" x2="889.97" y2="1747.29" stroke="#e58f93" stroke-width="1.6"/>
<line x1="835.63" y1="1763.91" x2="889.97" y2="1763.91" stroke="#aeaedc" stroke-width="2.8"/>
<text x="1165" y="1765.62" font-size="12.82" fill="#1c1c1c" stroke="#1c1c1c" stroke-width="0.45" textLength="37.05" lengthAdjust="spacingAndGlyphs" text-anchor="end">cd/klm</text>
<text x="984.05" y="1387.62" font-size="13.3" fill="#1c1c1c" stroke="#1c1c1c" stroke-width="0.45" text-anchor="middle" textLength="24.7" lengthAdjust="spacingAndGlyphs">180°</text>
<text x="982.05" y="1789.85" font-size="13.3" fill="#1c1c1c" stroke="#1c1c1c" stroke-width="0.45" text-anchor="middle" textLength="12.35" lengthAdjust="spacingAndGlyphs">0°</text>
<text x="789.3" y="1589.63" font-size="13.3" fill="#1c1c1c" stroke="#1c1c1c" stroke-width="0.45" text-anchor="end" textLength="19" lengthAdjust="spacingAndGlyphs">90°</text>
<text x="1177.2" y="1589.63" font-size="13.3" fill="#1c1c1c" stroke="#1c1c1c" stroke-width="0.45" textLength="19" lengthAdjust="spacingAndGlyphs">90°</text>
</g>
<g>
<clipPath id="cb6"><rect x="1921.8" y="1364.6" width="404" height="404"/></clipPath>
<g clip-path="url(#cb6)">
<rect x="1921.8" y="1364.6" width="404" height="404" fill="#fff"/>
<g transform="translate(2123.8,1466.29)"><path d="M0,0C8.2,-0.55 11.17,0.5 17.3,1.8C23.43,3.1 30.3,5.3 36.8,7.8C43.3,10.3 49.55,13.05 56.3,16.8C63.05,20.55 70.8,25.57 77.3,30.3C83.8,35.03 89.55,39.68 95.3,45.2C101.05,50.72 106.8,57.12 111.8,63.4C116.8,69.68 121.28,76.17 125.3,82.9C129.32,89.63 132.88,96.55 135.9,103.8C138.92,111.05 141.53,118.88 143.4,126.4C145.27,133.92 146.23,141.4 147.1,148.9C147.97,156.4 148.22,163.88 148.6,171.4C148.98,178.92 149.52,187.23 149.4,194C149.28,200.77 148.9,206 147.9,212C146.9,218 145.4,225 143.4,230C141.4,235 139.4,238.5 135.9,242C132.4,245.5 127.15,247.75 122.4,251C117.65,254.25 111.92,258.5 107.4,261.5C102.88,264.5 99.32,267.87 95.3,269C91.28,270.13 87.8,269.3 83.3,268.3C78.8,267.3 73.05,265.63 68.3,263C63.55,260.37 59.3,256 54.8,252.5C50.3,249 45.55,246 41.3,242C37.05,238 33.3,232 29.3,228.5C25.3,225 21.3,223.5 17.3,221C13.3,218.5 8.18,214.88 5.3,213.5C2.42,212.12 3.48,211.23 0,212.7C-3.48,214.17 -9.88,219.15 -15.6,222.3C-21.32,225.45 -28.4,227.72 -34.3,231.6C-40.2,235.48 -45.12,242.02 -51,245.6C-56.88,249.18 -64.17,251.7 -69.6,253.1C-75.03,254.5 -77.38,256.33 -83.6,254C-89.82,251.67 -99.92,243.13 -106.9,239.1C-113.88,235.07 -120.83,234.15 -125.5,229.8C-130.17,225.45 -132.42,218.9 -134.9,213C-137.38,207.1 -139.3,200.23 -140.4,194.4C-141.5,188.57 -141.18,184.22 -141.5,178C-141.82,171.78 -142.63,164.3 -142.3,157.1C-141.97,149.9 -141.05,143.12 -139.5,134.8C-137.95,126.48 -135.92,116.13 -133,107.2C-130.08,98.27 -126.5,89.4 -122,81.2C-117.5,73 -112,65.25 -106,58C-100,50.75 -93.52,44.47 -86,37.7C-78.48,30.93 -69.92,22.83 -60.9,17.4C-51.88,11.97 -42.05,8 -31.9,5.1C-21.75,2.2 -8.2,0.55 0,0Z" fill="#f1eb7f"/><path d="M0,0C8.2,-0.55 11.17,0.5 17.3,1.8C23.43,3.1 30.3,5.3 36.8,7.8C43.3,10.3 49.55,13.05 56.3,16.8C63.05,20.55 70.8,25.57 77.3,30.3C83.8,35.03 89.55,39.68 95.3,45.2C101.05,50.72 106.8,57.12 111.8,63.4C116.8,69.68 121.28,76.17 125.3,82.9C129.32,89.63 132.88,96.55 135.9,103.8C138.92,111.05 141.53,118.88 143.4,126.4C145.27,133.92 146.23,141.4 147.1,148.9C147.97,156.4 148.22,163.88 148.6,171.4C148.98,178.92 149.52,187.37 149.4,194C149.28,200.63 148.9,205.51 147.9,211.16C146.9,216.81 145.4,223.25 143.4,227.9C141.4,232.55 139.4,235.81 135.9,239.06C132.4,242.31 127.15,244.41 122.4,247.43C117.65,250.45 111.92,254.41 107.4,257.19C102.88,259.99 99.32,263.12 95.3,264.17C91.28,265.22 87.8,264.45 83.3,263.52C78.8,262.59 73.05,261.04 68.3,258.59C63.55,256.14 59.3,252.08 54.8,248.82C50.3,245.57 45.55,242.78 41.3,239.06C37.05,235.34 33.3,229.76 29.3,226.5C25.3,223.25 21.3,221.85 17.3,219.53C13.3,217.21 8.18,213.84 5.3,212.56C2.42,211.27 3.17,210.49 0,211.81C-3.17,213.14 -8.3,217.2 -13.7,220.5C-19.1,223.8 -26.18,226.95 -32.4,231.6C-38.62,236.25 -44.8,243.88 -51,248.4C-57.2,252.92 -63.38,256.22 -69.6,258.7C-75.82,261.18 -81.3,265.02 -88.3,263.3C-95.3,261.58 -105.4,252.43 -111.6,248.4C-117.8,244.37 -121.62,242.52 -125.5,239.1C-129.38,235.68 -131.63,235.05 -134.9,227.9C-138.17,220.75 -142.88,204.52 -145.1,196.2C-147.32,187.88 -147.58,184.52 -148.2,178C-148.82,171.48 -149.35,164.3 -148.8,157.1C-148.25,149.9 -146.75,143.12 -144.9,134.8C-143.05,126.48 -140.83,116.13 -137.7,107.2C-134.57,98.27 -130.93,89.4 -126.1,81.2C-121.27,73 -115.22,65.25 -108.7,58C-102.18,50.75 -94.97,44.47 -87,37.7C-79.03,30.93 -70.08,22.83 -60.9,17.4C-51.72,11.97 -42.05,8 -31.9,5.1C-21.75,2.2 -8.2,0.55 0,0Z" fill="#f1eb7f"/></g>
<g stroke="#454545" stroke-width="1.25" fill="none">
<line x1="2123.8" y1="658.29" x2="2123.8" y2="2274.29"/>
<line x1="1914.67" y1="685.82" x2="2332.93" y2="2246.75"/>
<line x1="1719.8" y1="766.54" x2="2527.8" y2="2166.04"/>
<line x1="1552.46" y1="894.94" x2="2695.14" y2="2037.63"/>
<line x1="1424.05" y1="1062.29" x2="2823.55" y2="1870.29"/>
<line x1="1343.33" y1="1257.16" x2="2904.27" y2="1675.41"/>
<line x1="1315.8" y1="1466.29" x2="2931.8" y2="1466.29"/>
<line x1="1343.33" y1="1675.41" x2="2904.27" y2="1257.16"/>
<line x1="1424.05" y1="1870.29" x2="2823.55" y2="1062.29"/>
<line x1="1552.46" y1="2037.63" x2="2695.14" y2="894.94"/>
<line x1="1719.8" y1="2166.04" x2="2527.8" y2="766.54"/>
<line x1="1914.67" y1="2246.75" x2="2332.93" y2="685.82"/>
<circle cx="2123.8" cy="1466.29" r="60.8"/>
<circle cx="2123.8" cy="1466.29" r="121.6"/>
<circle cx="2123.8" cy="1466.29" r="182.4"/>
<circle cx="2123.8" cy="1466.29" r="243.2"/>
<circle cx="2123.8" cy="1466.29" r="304"/>
</g>
<g transform="translate(2123.8,1466.29)"><path d="M0,0C8.2,-0.55 11.17,0.5 17.3,1.8C23.43,3.1 30.3,5.3 36.8,7.8C43.3,10.3 49.55,13.05 56.3,16.8C63.05,20.55 70.8,25.57 77.3,30.3C83.8,35.03 89.55,39.68 95.3,45.2C101.05,50.72 106.8,57.12 111.8,63.4C116.8,69.68 121.28,76.17 125.3,82.9C129.32,89.63 132.88,96.55 135.9,103.8C138.92,111.05 141.53,118.88 143.4,126.4C145.27,133.92 146.23,141.4 147.1,148.9C147.97,156.4 148.22,163.88 148.6,171.4C148.98,178.92 149.52,187.23 149.4,194C149.28,200.77 148.9,206 147.9,212C146.9,218 145.4,225 143.4,230C141.4,235 139.4,238.5 135.9,242C132.4,245.5 127.15,247.75 122.4,251C117.65,254.25 111.92,258.5 107.4,261.5C102.88,264.5 99.32,267.87 95.3,269C91.28,270.13 87.8,269.3 83.3,268.3C78.8,267.3 73.05,265.63 68.3,263C63.55,260.37 59.3,256 54.8,252.5C50.3,249 45.55,246 41.3,242C37.05,238 33.3,232 29.3,228.5C25.3,225 21.3,223.5 17.3,221C13.3,218.5 8.18,214.88 5.3,213.5C2.42,212.12 3.48,211.23 0,212.7C-3.48,214.17 -9.88,219.15 -15.6,222.3C-21.32,225.45 -28.4,227.72 -34.3,231.6C-40.2,235.48 -45.12,242.02 -51,245.6C-56.88,249.18 -64.17,251.7 -69.6,253.1C-75.03,254.5 -77.38,256.33 -83.6,254C-89.82,251.67 -99.92,243.13 -106.9,239.1C-113.88,235.07 -120.83,234.15 -125.5,229.8C-130.17,225.45 -132.42,218.9 -134.9,213C-137.38,207.1 -139.3,200.23 -140.4,194.4C-141.5,188.57 -141.18,184.22 -141.5,178C-141.82,171.78 -142.63,164.3 -142.3,157.1C-141.97,149.9 -141.05,143.12 -139.5,134.8C-137.95,126.48 -135.92,116.13 -133,107.2C-130.08,98.27 -126.5,89.4 -122,81.2C-117.5,73 -112,65.25 -106,58C-100,50.75 -93.52,44.47 -86,37.7C-78.48,30.93 -69.92,22.83 -60.9,17.4C-51.88,11.97 -42.05,8 -31.9,5.1C-21.75,2.2 -8.2,0.55 0,0Z" fill="none" stroke="#e8716e" stroke-width="1.1"/><path d="M0,0C8.2,-0.55 11.17,0.5 17.3,1.8C23.43,3.1 30.3,5.3 36.8,7.8C43.3,10.3 49.55,13.05 56.3,16.8C63.05,20.55 70.8,25.57 77.3,30.3C83.8,35.03 89.55,39.68 95.3,45.2C101.05,50.72 106.8,57.12 111.8,63.4C116.8,69.68 121.28,76.17 125.3,82.9C129.32,89.63 132.88,96.55 135.9,103.8C138.92,111.05 141.53,118.88 143.4,126.4C145.27,133.92 146.23,141.4 147.1,148.9C147.97,156.4 148.22,163.88 148.6,171.4C148.98,178.92 149.52,187.37 149.4,194C149.28,200.63 148.9,205.51 147.9,211.16C146.9,216.81 145.4,223.25 143.4,227.9C141.4,232.55 139.4,235.81 135.9,239.06C132.4,242.31 127.15,244.41 122.4,247.43C117.65,250.45 111.92,254.41 107.4,257.19C102.88,259.99 99.32,263.12 95.3,264.17C91.28,265.22 87.8,264.45 83.3,263.52C78.8,262.59 73.05,261.04 68.3,258.59C63.55,256.14 59.3,252.08 54.8,248.82C50.3,245.57 45.55,242.78 41.3,239.06C37.05,235.34 33.3,229.76 29.3,226.5C25.3,223.25 21.3,221.85 17.3,219.53C13.3,217.21 8.18,213.84 5.3,212.56C2.42,211.27 3.17,210.49 0,211.81C-3.17,213.14 -8.3,217.2 -13.7,220.5C-19.1,223.8 -26.18,226.95 -32.4,231.6C-38.62,236.25 -44.8,243.88 -51,248.4C-57.2,252.92 -63.38,256.22 -69.6,258.7C-75.82,261.18 -81.3,265.02 -88.3,263.3C-95.3,261.58 -105.4,252.43 -111.6,248.4C-117.8,244.37 -121.62,242.52 -125.5,239.1C-129.38,235.68 -131.63,235.05 -134.9,227.9C-138.17,220.75 -142.88,204.52 -145.1,196.2C-147.32,187.88 -147.58,184.52 -148.2,178C-148.82,171.48 -149.35,164.3 -148.8,157.1C-148.25,149.9 -146.75,143.12 -144.9,134.8C-143.05,126.48 -140.83,116.13 -137.7,107.2C-134.57,98.27 -130.93,89.4 -126.1,81.2C-121.27,73 -115.22,65.25 -108.7,58C-102.18,50.75 -94.97,44.47 -87,37.7C-79.03,30.93 -70.08,22.83 -60.9,17.4C-51.72,11.97 -42.05,8 -31.9,5.1C-21.75,2.2 -8.2,0.55 0,0Z" fill="none" stroke="#6c6cc0" stroke-width="1.1"/></g>
<circle cx="2123.8" cy="1466.29" r="2.6" fill="#111"/>
<rect x="1921.8" y="1733.6" width="130" height="35" fill="#fff"/>
</g>
<rect x="1921.8" y="1364.6" width="404" height="404" fill="none" stroke="#a8a8a8" stroke-width="2.6"/>
<text x="2124.3" y="1402.99" font-size="14" fill="#1c1c1c" stroke="#1c1c1c" stroke-width="0.45">70</text>
<text x="2124.3" y="1524.59" font-size="14" fill="#1c1c1c" stroke="#1c1c1c" stroke-width="0.45">70</text>
<text x="2124.3" y="1585.39" font-size="14" fill="#1c1c1c" stroke="#1c1c1c" stroke-width="0.45">140</text>
<text x="2124.3" y="1646.19" font-size="14" fill="#1c1c1c" stroke="#1c1c1c" stroke-width="0.45">210</text>
<text x="2124.3" y="1706.99" font-size="14" fill="#1c1c1c" stroke="#1c1c1c" stroke-width="0.45">280</text>
<text x="2124.3" y="1767.79" font-size="14" fill="#1c1c1c" stroke="#1c1c1c" stroke-width="0.45">350</text>
<text x="1927.2" y="1747.1" font-size="13.5" fill="#1c1c1c" stroke="#1c1c1c" stroke-width="0.45" textLength="32.5" lengthAdjust="spacingAndGlyphs">180.0</text>
<text x="1926.8" y="1765.3" font-size="13.5" fill="#1c1c1c" stroke="#1c1c1c" stroke-width="0.45" textLength="33" lengthAdjust="spacingAndGlyphs">270.0</text>
<text x="2023.6" y="1747.1" font-size="13.5" fill="#1c1c1c" stroke="#1c1c1c" stroke-width="0.45" textLength="17.5" lengthAdjust="spacingAndGlyphs">0.0</text>
<text x="2023.6" y="1765.3" font-size="13.5" fill="#1c1c1c" stroke="#1c1c1c" stroke-width="0.45" textLength="25.5" lengthAdjust="spacingAndGlyphs">90.0</text>
<line x1="1963.2" y1="1742.8" x2="2020.4" y2="1742.8" stroke="#e58f93" stroke-width="1.6"/>
<line x1="1963.2" y1="1760.3" x2="2020.4" y2="1760.3" stroke="#aeaedc" stroke-width="2.8"/>
<text x="2321.8" y="1762.1" font-size="13.5" fill="#1c1c1c" stroke="#1c1c1c" stroke-width="0.45" textLength="39" lengthAdjust="spacingAndGlyphs" text-anchor="end">cd/klm</text>
<text x="2125.3" y="1352.3" font-size="14" fill="#1c1c1c" stroke="#1c1c1c" stroke-width="0.45" text-anchor="middle" textLength="26" lengthAdjust="spacingAndGlyphs">180°</text>
<text x="2123.3" y="1787.6" font-size="14" fill="#1c1c1c" stroke="#1c1c1c" stroke-width="0.45" text-anchor="middle" textLength="13" lengthAdjust="spacingAndGlyphs">0°</text>
<text x="1914.8" y="1470.59" font-size="14" fill="#1c1c1c" stroke="#1c1c1c" stroke-width="0.45" text-anchor="end" textLength="20" lengthAdjust="spacingAndGlyphs">90°</text>
<text x="2334.2" y="1470.59" font-size="14" fill="#1c1c1c" stroke="#1c1c1c" stroke-width="0.45" textLength="20" lengthAdjust="spacingAndGlyphs">90°</text>
</g>
<g>
<clipPath id="cb7"><rect x="780.8" y="1921.7" width="404" height="404"/></clipPath>
<g clip-path="url(#cb7)">
<rect x="780.8" y="1921.7" width="404" height="404" fill="#fff"/>
<g transform="translate(982.8,2023.39)"><path d="M0,0C8.2,-0.55 11.17,0.5 17.3,1.8C23.43,3.1 30.3,5.3 36.8,7.8C43.3,10.3 49.55,13.05 56.3,16.8C63.05,20.55 70.8,25.57 77.3,30.3C83.8,35.03 89.55,39.68 95.3,45.2C101.05,50.72 106.8,57.12 111.8,63.4C116.8,69.68 121.28,76.17 125.3,82.9C129.32,89.63 132.88,96.55 135.9,103.8C138.92,111.05 141.53,118.88 143.4,126.4C145.27,133.92 146.23,141.4 147.1,148.9C147.97,156.4 148.22,163.88 148.6,171.4C148.98,178.92 149.52,187.23 149.4,194C149.28,200.77 148.9,206 147.9,212C146.9,218 145.4,225 143.4,230C141.4,235 139.4,238.5 135.9,242C132.4,245.5 127.15,247.75 122.4,251C117.65,254.25 111.92,258.5 107.4,261.5C102.88,264.5 99.32,267.87 95.3,269C91.28,270.13 87.8,269.3 83.3,268.3C78.8,267.3 73.05,265.63 68.3,263C63.55,260.37 59.3,256 54.8,252.5C50.3,249 45.55,246 41.3,242C37.05,238 33.3,232 29.3,228.5C25.3,225 21.3,223.5 17.3,221C13.3,218.5 8.18,214.88 5.3,213.5C2.42,212.12 3.48,211.23 0,212.7C-3.48,214.17 -9.88,219.15 -15.6,222.3C-21.32,225.45 -28.4,227.72 -34.3,231.6C-40.2,235.48 -45.12,242.02 -51,245.6C-56.88,249.18 -64.17,251.7 -69.6,253.1C-75.03,254.5 -77.38,256.33 -83.6,254C-89.82,251.67 -99.92,243.13 -106.9,239.1C-113.88,235.07 -120.83,234.15 -125.5,229.8C-130.17,225.45 -132.42,218.9 -134.9,213C-137.38,207.1 -139.3,200.23 -140.4,194.4C-141.5,188.57 -141.18,184.22 -141.5,178C-141.82,171.78 -142.63,164.3 -142.3,157.1C-141.97,149.9 -141.05,143.12 -139.5,134.8C-137.95,126.48 -135.92,116.13 -133,107.2C-130.08,98.27 -126.5,89.4 -122,81.2C-117.5,73 -112,65.25 -106,58C-100,50.75 -93.52,44.47 -86,37.7C-78.48,30.93 -69.92,22.83 -60.9,17.4C-51.88,11.97 -42.05,8 -31.9,5.1C-21.75,2.2 -8.2,0.55 0,0Z" fill="#f1eb7f"/><path d="M0,0C8.2,-0.55 11.17,0.5 17.3,1.8C23.43,3.1 30.3,5.3 36.8,7.8C43.3,10.3 49.55,13.05 56.3,16.8C63.05,20.55 70.8,25.57 77.3,30.3C83.8,35.03 89.55,39.68 95.3,45.2C101.05,50.72 106.8,57.12 111.8,63.4C116.8,69.68 121.28,76.17 125.3,82.9C129.32,89.63 132.88,96.55 135.9,103.8C138.92,111.05 141.53,118.88 143.4,126.4C145.27,133.92 146.23,141.4 147.1,148.9C147.97,156.4 148.22,163.88 148.6,171.4C148.98,178.92 149.52,187.37 149.4,194C149.28,200.63 148.9,205.51 147.9,211.16C146.9,216.81 145.4,223.25 143.4,227.9C141.4,232.55 139.4,235.81 135.9,239.06C132.4,242.31 127.15,244.41 122.4,247.43C117.65,250.45 111.92,254.41 107.4,257.19C102.88,259.99 99.32,263.12 95.3,264.17C91.28,265.22 87.8,264.45 83.3,263.52C78.8,262.59 73.05,261.04 68.3,258.59C63.55,256.14 59.3,252.08 54.8,248.82C50.3,245.57 45.55,242.78 41.3,239.06C37.05,235.34 33.3,229.76 29.3,226.5C25.3,223.25 21.3,221.85 17.3,219.53C13.3,217.21 8.18,213.84 5.3,212.56C2.42,211.27 3.17,210.49 0,211.81C-3.17,213.14 -8.3,217.2 -13.7,220.5C-19.1,223.8 -26.18,226.95 -32.4,231.6C-38.62,236.25 -44.8,243.88 -51,248.4C-57.2,252.92 -63.38,256.22 -69.6,258.7C-75.82,261.18 -81.3,265.02 -88.3,263.3C-95.3,261.58 -105.4,252.43 -111.6,248.4C-117.8,244.37 -121.62,242.52 -125.5,239.1C-129.38,235.68 -131.63,235.05 -134.9,227.9C-138.17,220.75 -142.88,204.52 -145.1,196.2C-147.32,187.88 -147.58,184.52 -148.2,178C-148.82,171.48 -149.35,164.3 -148.8,157.1C-148.25,149.9 -146.75,143.12 -144.9,134.8C-143.05,126.48 -140.83,116.13 -137.7,107.2C-134.57,98.27 -130.93,89.4 -126.1,81.2C-121.27,73 -115.22,65.25 -108.7,58C-102.18,50.75 -94.97,44.47 -87,37.7C-79.03,30.93 -70.08,22.83 -60.9,17.4C-51.72,11.97 -42.05,8 -31.9,5.1C-21.75,2.2 -8.2,0.55 0,0Z" fill="#f1eb7f"/></g>
<g stroke="#454545" stroke-width="1.25" fill="none">
<line x1="982.8" y1="1215.39" x2="982.8" y2="2831.39"/>
<line x1="773.67" y1="1242.92" x2="1191.93" y2="2803.85"/>
<line x1="578.8" y1="1323.64" x2="1386.8" y2="2723.14"/>
<line x1="411.46" y1="1452.04" x2="1554.14" y2="2594.73"/>
<line x1="283.05" y1="1619.39" x2="1682.55" y2="2427.39"/>
<line x1="202.33" y1="1814.26" x2="1763.27" y2="2232.51"/>
<line x1="174.8" y1="2023.39" x2="1790.8" y2="2023.39"/>
<line x1="202.33" y1="2232.51" x2="1763.27" y2="1814.26"/>
<line x1="283.05" y1="2427.39" x2="1682.55" y2="1619.39"/>
<line x1="411.46" y1="2594.73" x2="1554.14" y2="1452.04"/>
<line x1="578.8" y1="2723.14" x2="1386.8" y2="1323.64"/>
<line x1="773.67" y1="2803.85" x2="1191.93" y2="1242.92"/>
<circle cx="982.8" cy="2023.39" r="60.8"/>
<circle cx="982.8" cy="2023.39" r="121.6"/>
<circle cx="982.8" cy="2023.39" r="182.4"/>
<circle cx="982.8" cy="2023.39" r="243.2"/>
<circle cx="982.8" cy="2023.39" r="304"/>
</g>
<g transform="translate(982.8,2023.39)"><path d="M0,0C8.2,-0.55 11.17,0.5 17.3,1.8C23.43,3.1 30.3,5.3 36.8,7.8C43.3,10.3 49.55,13.05 56.3,16.8C63.05,20.55 70.8,25.57 77.3,30.3C83.8,35.03 89.55,39.68 95.3,45.2C101.05,50.72 106.8,57.12 111.8,63.4C116.8,69.68 121.28,76.17 125.3,82.9C129.32,89.63 132.88,96.55 135.9,103.8C138.92,111.05 141.53,118.88 143.4,126.4C145.27,133.92 146.23,141.4 147.1,148.9C147.97,156.4 148.22,163.88 148.6,171.4C148.98,178.92 149.52,187.23 149.4,194C149.28,200.77 148.9,206 147.9,212C146.9,218 145.4,225 143.4,230C141.4,235 139.4,238.5 135.9,242C132.4,245.5 127.15,247.75 122.4,251C117.65,254.25 111.92,258.5 107.4,261.5C102.88,264.5 99.32,267.87 95.3,269C91.28,270.13 87.8,269.3 83.3,268.3C78.8,267.3 73.05,265.63 68.3,263C63.55,260.37 59.3,256 54.8,252.5C50.3,249 45.55,246 41.3,242C37.05,238 33.3,232 29.3,228.5C25.3,225 21.3,223.5 17.3,221C13.3,218.5 8.18,214.88 5.3,213.5C2.42,212.12 3.48,211.23 0,212.7C-3.48,214.17 -9.88,219.15 -15.6,222.3C-21.32,225.45 -28.4,227.72 -34.3,231.6C-40.2,235.48 -45.12,242.02 -51,245.6C-56.88,249.18 -64.17,251.7 -69.6,253.1C-75.03,254.5 -77.38,256.33 -83.6,254C-89.82,251.67 -99.92,243.13 -106.9,239.1C-113.88,235.07 -120.83,234.15 -125.5,229.8C-130.17,225.45 -132.42,218.9 -134.9,213C-137.38,207.1 -139.3,200.23 -140.4,194.4C-141.5,188.57 -141.18,184.22 -141.5,178C-141.82,171.78 -142.63,164.3 -142.3,157.1C-141.97,149.9 -141.05,143.12 -139.5,134.8C-137.95,126.48 -135.92,116.13 -133,107.2C-130.08,98.27 -126.5,89.4 -122,81.2C-117.5,73 -112,65.25 -106,58C-100,50.75 -93.52,44.47 -86,37.7C-78.48,30.93 -69.92,22.83 -60.9,17.4C-51.88,11.97 -42.05,8 -31.9,5.1C-21.75,2.2 -8.2,0.55 0,0Z" fill="none" stroke="#e8716e" stroke-width="1.1"/><path d="M0,0C8.2,-0.55 11.17,0.5 17.3,1.8C23.43,3.1 30.3,5.3 36.8,7.8C43.3,10.3 49.55,13.05 56.3,16.8C63.05,20.55 70.8,25.57 77.3,30.3C83.8,35.03 89.55,39.68 95.3,45.2C101.05,50.72 106.8,57.12 111.8,63.4C116.8,69.68 121.28,76.17 125.3,82.9C129.32,89.63 132.88,96.55 135.9,103.8C138.92,111.05 141.53,118.88 143.4,126.4C145.27,133.92 146.23,141.4 147.1,148.9C147.97,156.4 148.22,163.88 148.6,171.4C148.98,178.92 149.52,187.37 149.4,194C149.28,200.63 148.9,205.51 147.9,211.16C146.9,216.81 145.4,223.25 143.4,227.9C141.4,232.55 139.4,235.81 135.9,239.06C132.4,242.31 127.15,244.41 122.4,247.43C117.65,250.45 111.92,254.41 107.4,257.19C102.88,259.99 99.32,263.12 95.3,264.17C91.28,265.22 87.8,264.45 83.3,263.52C78.8,262.59 73.05,261.04 68.3,258.59C63.55,256.14 59.3,252.08 54.8,248.82C50.3,245.57 45.55,242.78 41.3,239.06C37.05,235.34 33.3,229.76 29.3,226.5C25.3,223.25 21.3,221.85 17.3,219.53C13.3,217.21 8.18,213.84 5.3,212.56C2.42,211.27 3.17,210.49 0,211.81C-3.17,213.14 -8.3,217.2 -13.7,220.5C-19.1,223.8 -26.18,226.95 -32.4,231.6C-38.62,236.25 -44.8,243.88 -51,248.4C-57.2,252.92 -63.38,256.22 -69.6,258.7C-75.82,261.18 -81.3,265.02 -88.3,263.3C-95.3,261.58 -105.4,252.43 -111.6,248.4C-117.8,244.37 -121.62,242.52 -125.5,239.1C-129.38,235.68 -131.63,235.05 -134.9,227.9C-138.17,220.75 -142.88,204.52 -145.1,196.2C-147.32,187.88 -147.58,184.52 -148.2,178C-148.82,171.48 -149.35,164.3 -148.8,157.1C-148.25,149.9 -146.75,143.12 -144.9,134.8C-143.05,126.48 -140.83,116.13 -137.7,107.2C-134.57,98.27 -130.93,89.4 -126.1,81.2C-121.27,73 -115.22,65.25 -108.7,58C-102.18,50.75 -94.97,44.47 -87,37.7C-79.03,30.93 -70.08,22.83 -60.9,17.4C-51.72,11.97 -42.05,8 -31.9,5.1C-21.75,2.2 -8.2,0.55 0,0Z" fill="none" stroke="#6c6cc0" stroke-width="1.1"/></g>
<circle cx="982.8" cy="2023.39" r="2.6" fill="#111"/>
<rect x="780.8" y="2290.7" width="130" height="35" fill="#fff"/>
</g>
<rect x="780.8" y="1921.7" width="404" height="404" fill="none" stroke="#a0a0a0" stroke-width="2.6"/>
<text x="983.3" y="1960.09" font-size="14" fill="#1c1c1c" stroke="#1c1c1c" stroke-width="0.45">70</text>
<text x="983.3" y="2081.69" font-size="14" fill="#1c1c1c" stroke="#1c1c1c" stroke-width="0.45">70</text>
<text x="983.3" y="2142.49" font-size="14" fill="#1c1c1c" stroke="#1c1c1c" stroke-width="0.45">140</text>
<text x="983.3" y="2203.29" font-size="14" fill="#1c1c1c" stroke="#1c1c1c" stroke-width="0.45">210</text>
<text x="983.3" y="2264.09" font-size="14" fill="#1c1c1c" stroke="#1c1c1c" stroke-width="0.45">280</text>
<text x="983.3" y="2324.89" font-size="14" fill="#1c1c1c" stroke="#1c1c1c" stroke-width="0.45">350</text>
<text x="786.2" y="2304.2" font-size="13.5" fill="#1c1c1c" stroke="#1c1c1c" stroke-width="0.45" textLength="32.5" lengthAdjust="spacingAndGlyphs">180.0</text>
<text x="785.8" y="2322.4" font-size="13.5" fill="#1c1c1c" stroke="#1c1c1c" stroke-width="0.45" textLength="33" lengthAdjust="spacingAndGlyphs">270.0</text>
<text x="882.6" y="2304.2" font-size="13.5" fill="#1c1c1c" stroke="#1c1c1c" stroke-width="0.45" textLength="17.5" lengthAdjust="spacingAndGlyphs">0.0</text>
<text x="882.6" y="2322.4" font-size="13.5" fill="#1c1c1c" stroke="#1c1c1c" stroke-width="0.45" textLength="25.5" lengthAdjust="spacingAndGlyphs">90.0</text>
<line x1="822.2" y1="2299.9" x2="879.4" y2="2299.9" stroke="#e58f93" stroke-width="1.6"/>
<line x1="822.2" y1="2317.4" x2="879.4" y2="2317.4" stroke="#aeaedc" stroke-width="2.8"/>
<text x="1180.8" y="2319.2" font-size="13.5" fill="#1c1c1c" stroke="#1c1c1c" stroke-width="0.45" textLength="39" lengthAdjust="spacingAndGlyphs" text-anchor="end">cd/klm</text>
<text x="984.3" y="1909.4" font-size="14" fill="#1c1c1c" stroke="#1c1c1c" stroke-width="0.45" text-anchor="middle" textLength="26" lengthAdjust="spacingAndGlyphs">180°</text>
<text x="982.3" y="2344.7" font-size="14" fill="#1c1c1c" stroke="#1c1c1c" stroke-width="0.45" text-anchor="middle" textLength="13" lengthAdjust="spacingAndGlyphs">0°</text>
<text x="773.8" y="2027.69" font-size="14" fill="#1c1c1c" stroke="#1c1c1c" stroke-width="0.45" text-anchor="end" textLength="20" lengthAdjust="spacingAndGlyphs">90°</text>
<text x="1193.2" y="2027.69" font-size="14" fill="#1c1c1c" stroke="#1c1c1c" stroke-width="0.45" textLength="20" lengthAdjust="spacingAndGlyphs">90°</text>
</g>
<g>
<clipPath id="cb8"><rect x="1921.8" y="1921.7" width="404" height="404"/></clipPath>
<g clip-path="url(#cb8)">
<rect x="1921.8" y="1921.7" width="404" height="404" fill="#fff"/>
<g transform="translate(2123.8,2023.39)"><path d="M0,0C8.2,-0.55 11.17,0.5 17.3,1.8C23.43,3.1 30.3,5.3 36.8,7.8C43.3,10.3 49.55,13.05 56.3,16.8C63.05,20.55 70.8,25.57 77.3,30.3C83.8,35.03 89.55,39.68 95.3,45.2C101.05,50.72 106.8,57.12 111.8,63.4C116.8,69.68 121.28,76.17 125.3,82.9C129.32,89.63 132.88,96.55 135.9,103.8C138.92,111.05 141.53,118.88 143.4,126.4C145.27,133.92 146.23,141.4 147.1,148.9C147.97,156.4 148.22,163.88 148.6,171.4C148.98,178.92 149.52,187.23 149.4,194C149.28,200.77 148.9,206 147.9,212C146.9,218 145.4,225 143.4,230C141.4,235 139.4,238.5 135.9,242C132.4,245.5 127.15,247.75 122.4,251C117.65,254.25 111.92,258.5 107.4,261.5C102.88,264.5 99.32,267.87 95.3,269C91.28,270.13 87.8,269.3 83.3,268.3C78.8,267.3 73.05,265.63 68.3,263C63.55,260.37 59.3,256 54.8,252.5C50.3,249 45.55,246 41.3,242C37.05,238 33.3,232 29.3,228.5C25.3,225 21.3,223.5 17.3,221C13.3,218.5 8.18,214.88 5.3,213.5C2.42,212.12 3.48,211.23 0,212.7C-3.48,214.17 -9.88,219.15 -15.6,222.3C-21.32,225.45 -28.4,227.72 -34.3,231.6C-40.2,235.48 -45.12,242.02 -51,245.6C-56.88,249.18 -64.17,251.7 -69.6,253.1C-75.03,254.5 -77.38,256.33 -83.6,254C-89.82,251.67 -99.92,243.13 -106.9,239.1C-113.88,235.07 -120.83,234.15 -125.5,229.8C-130.17,225.45 -132.42,218.9 -134.9,213C-137.38,207.1 -139.3,200.23 -140.4,194.4C-141.5,188.57 -141.18,184.22 -141.5,178C-141.82,171.78 -142.63,164.3 -142.3,157.1C-141.97,149.9 -141.05,143.12 -139.5,134.8C-137.95,126.48 -135.92,116.13 -133,107.2C-130.08,98.27 -126.5,89.4 -122,81.2C-117.5,73 -112,65.25 -106,58C-100,50.75 -93.52,44.47 -86,37.7C-78.48,30.93 -69.92,22.83 -60.9,17.4C-51.88,11.97 -42.05,8 -31.9,5.1C-21.75,2.2 -8.2,0.55 0,0Z" fill="#f1eb7f"/><path d="M0,0C8.2,-0.55 11.17,0.5 17.3,1.8C23.43,3.1 30.3,5.3 36.8,7.8C43.3,10.3 49.55,13.05 56.3,16.8C63.05,20.55 70.8,25.57 77.3,30.3C83.8,35.03 89.55,39.68 95.3,45.2C101.05,50.72 106.8,57.12 111.8,63.4C116.8,69.68 121.28,76.17 125.3,82.9C129.32,89.63 132.88,96.55 135.9,103.8C138.92,111.05 141.53,118.88 143.4,126.4C145.27,133.92 146.23,141.4 147.1,148.9C147.97,156.4 148.22,163.88 148.6,171.4C148.98,178.92 149.52,187.37 149.4,194C149.28,200.63 148.9,205.51 147.9,211.16C146.9,216.81 145.4,223.25 143.4,227.9C141.4,232.55 139.4,235.81 135.9,239.06C132.4,242.31 127.15,244.41 122.4,247.43C117.65,250.45 111.92,254.41 107.4,257.19C102.88,259.99 99.32,263.12 95.3,264.17C91.28,265.22 87.8,264.45 83.3,263.52C78.8,262.59 73.05,261.04 68.3,258.59C63.55,256.14 59.3,252.08 54.8,248.82C50.3,245.57 45.55,242.78 41.3,239.06C37.05,235.34 33.3,229.76 29.3,226.5C25.3,223.25 21.3,221.85 17.3,219.53C13.3,217.21 8.18,213.84 5.3,212.56C2.42,211.27 3.17,210.49 0,211.81C-3.17,213.14 -8.3,217.2 -13.7,220.5C-19.1,223.8 -26.18,226.95 -32.4,231.6C-38.62,236.25 -44.8,243.88 -51,248.4C-57.2,252.92 -63.38,256.22 -69.6,258.7C-75.82,261.18 -81.3,265.02 -88.3,263.3C-95.3,261.58 -105.4,252.43 -111.6,248.4C-117.8,244.37 -121.62,242.52 -125.5,239.1C-129.38,235.68 -131.63,235.05 -134.9,227.9C-138.17,220.75 -142.88,204.52 -145.1,196.2C-147.32,187.88 -147.58,184.52 -148.2,178C-148.82,171.48 -149.35,164.3 -148.8,157.1C-148.25,149.9 -146.75,143.12 -144.9,134.8C-143.05,126.48 -140.83,116.13 -137.7,107.2C-134.57,98.27 -130.93,89.4 -126.1,81.2C-121.27,73 -115.22,65.25 -108.7,58C-102.18,50.75 -94.97,44.47 -87,37.7C-79.03,30.93 -70.08,22.83 -60.9,17.4C-51.72,11.97 -42.05,8 -31.9,5.1C-21.75,2.2 -8.2,0.55 0,0Z" fill="#f1eb7f"/></g>
<g stroke="#454545" stroke-width="1.25" fill="none">
<line x1="2123.8" y1="1215.39" x2="2123.8" y2="2831.39"/>
<line x1="1914.67" y1="1242.92" x2="2332.93" y2="2803.85"/>
<line x1="1719.8" y1="1323.64" x2="2527.8" y2="2723.14"/>
<line x1="1552.46" y1="1452.04" x2="2695.14" y2="2594.73"/>
<line x1="1424.05" y1="1619.39" x2="2823.55" y2="2427.39"/>
<line x1="1343.33" y1="1814.26" x2="2904.27" y2="2232.51"/>
<line x1="1315.8" y1="2023.39" x2="2931.8" y2="2023.39"/>
<line x1="1343.33" y1="2232.51" x2="2904.27" y2="1814.26"/>
<line x1="1424.05" y1="2427.39" x2="2823.55" y2="1619.39"/>
<line x1="1552.46" y1="2594.73" x2="2695.14" y2="1452.04"/>
<line x1="1719.8" y1="2723.14" x2="2527.8" y2="1323.64"/>
<line x1="1914.67" y1="2803.85" x2="2332.93" y2="1242.92"/>
<circle cx="2123.8" cy="2023.39" r="60.8"/>
<circle cx="2123.8" cy="2023.39" r="121.6"/>
<circle cx="2123.8" cy="2023.39" r="182.4"/>
<circle cx="2123.8" cy="2023.39" r="243.2"/>
<circle cx="2123.8" cy="2023.39" r="304"/>
</g>
<g transform="translate(2123.8,2023.39)"><path d="M0,0C8.2,-0.55 11.17,0.5 17.3,1.8C23.43,3.1 30.3,5.3 36.8,7.8C43.3,10.3 49.55,13.05 56.3,16.8C63.05,20.55 70.8,25.57 77.3,30.3C83.8,35.03 89.55,39.68 95.3,45.2C101.05,50.72 106.8,57.12 111.8,63.4C116.8,69.68 121.28,76.17 125.3,82.9C129.32,89.63 132.88,96.55 135.9,103.8C138.92,111.05 141.53,118.88 143.4,126.4C145.27,133.92 146.23,141.4 147.1,148.9C147.97,156.4 148.22,163.88 148.6,171.4C148.98,178.92 149.52,187.23 149.4,194C149.28,200.77 148.9,206 147.9,212C146.9,218 145.4,225 143.4,230C141.4,235 139.4,238.5 135.9,242C132.4,245.5 127.15,247.75 122.4,251C117.65,254.25 111.92,258.5 107.4,261.5C102.88,264.5 99.32,267.87 95.3,269C91.28,270.13 87.8,269.3 83.3,268.3C78.8,267.3 73.05,265.63 68.3,263C63.55,260.37 59.3,256 54.8,252.5C50.3,249 45.55,246 41.3,242C37.05,238 33.3,232 29.3,228.5C25.3,225 21.3,223.5 17.3,221C13.3,218.5 8.18,214.88 5.3,213.5C2.42,212.12 3.48,211.23 0,212.7C-3.48,214.17 -9.88,219.15 -15.6,222.3C-21.32,225.45 -28.4,227.72 -34.3,231.6C-40.2,235.48 -45.12,242.02 -51,245.6C-56.88,249.18 -64.17,251.7 -69.6,253.1C-75.03,254.5 -77.38,256.33 -83.6,254C-89.82,251.67 -99.92,243.13 -106.9,239.1C-113.88,235.07 -120.83,234.15 -125.5,229.8C-130.17,225.45 -132.42,218.9 -134.9,213C-137.38,207.1 -139.3,200.23 -140.4,194.4C-141.5,188.57 -141.18,184.22 -141.5,178C-141.82,171.78 -142.63,164.3 -142.3,157.1C-141.97,149.9 -141.05,143.12 -139.5,134.8C-137.95,126.48 -135.92,116.13 -133,107.2C-130.08,98.27 -126.5,89.4 -122,81.2C-117.5,73 -112,65.25 -106,58C-100,50.75 -93.52,44.47 -86,37.7C-78.48,30.93 -69.92,22.83 -60.9,17.4C-51.88,11.97 -42.05,8 -31.9,5.1C-21.75,2.2 -8.2,0.55 0,0Z" fill="none" stroke="#e8716e" stroke-width="1.1"/><path d="M0,0C8.2,-0.55 11.17,0.5 17.3,1.8C23.43,3.1 30.3,5.3 36.8,7.8C43.3,10.3 49.55,13.05 56.3,16.8C63.05,20.55 70.8,25.57 77.3,30.3C83.8,35.03 89.55,39.68 95.3,45.2C101.05,50.72 106.8,57.12 111.8,63.4C116.8,69.68 121.28,76.17 125.3,82.9C129.32,89.63 132.88,96.55 135.9,103.8C138.92,111.05 141.53,118.88 143.4,126.4C145.27,133.92 146.23,141.4 147.1,148.9C147.97,156.4 148.22,163.88 148.6,171.4C148.98,178.92 149.52,187.37 149.4,194C149.28,200.63 148.9,205.51 147.9,211.16C146.9,216.81 145.4,223.25 143.4,227.9C141.4,232.55 139.4,235.81 135.9,239.06C132.4,242.31 127.15,244.41 122.4,247.43C117.65,250.45 111.92,254.41 107.4,257.19C102.88,259.99 99.32,263.12 95.3,264.17C91.28,265.22 87.8,264.45 83.3,263.52C78.8,262.59 73.05,261.04 68.3,258.59C63.55,256.14 59.3,252.08 54.8,248.82C50.3,245.57 45.55,242.78 41.3,239.06C37.05,235.34 33.3,229.76 29.3,226.5C25.3,223.25 21.3,221.85 17.3,219.53C13.3,217.21 8.18,213.84 5.3,212.56C2.42,211.27 3.17,210.49 0,211.81C-3.17,213.14 -8.3,217.2 -13.7,220.5C-19.1,223.8 -26.18,226.95 -32.4,231.6C-38.62,236.25 -44.8,243.88 -51,248.4C-57.2,252.92 -63.38,256.22 -69.6,258.7C-75.82,261.18 -81.3,265.02 -88.3,263.3C-95.3,261.58 -105.4,252.43 -111.6,248.4C-117.8,244.37 -121.62,242.52 -125.5,239.1C-129.38,235.68 -131.63,235.05 -134.9,227.9C-138.17,220.75 -142.88,204.52 -145.1,196.2C-147.32,187.88 -147.58,184.52 -148.2,178C-148.82,171.48 -149.35,164.3 -148.8,157.1C-148.25,149.9 -146.75,143.12 -144.9,134.8C-143.05,126.48 -140.83,116.13 -137.7,107.2C-134.57,98.27 -130.93,89.4 -126.1,81.2C-121.27,73 -115.22,65.25 -108.7,58C-102.18,50.75 -94.97,44.47 -87,37.7C-79.03,30.93 -70.08,22.83 -60.9,17.4C-51.72,11.97 -42.05,8 -31.9,5.1C-21.75,2.2 -8.2,0.55 0,0Z" fill="none" stroke="#6c6cc0" stroke-width="1.1"/></g>
<circle cx="2123.8" cy="2023.39" r="2.6" fill="#111"/>
<rect x="1921.8" y="2290.7" width="130" height="35" fill="#fff"/>
</g>
<rect x="1921.8" y="1921.7" width="404" height="404" fill="none" stroke="#a0a0a0" stroke-width="2.6"/>
<text x="2124.3" y="1960.09" font-size="14" fill="#1c1c1c" stroke="#1c1c1c" stroke-width="0.45">70</text>
<text x="2124.3" y="2081.69" font-size="14" fill="#1c1c1c" stroke="#1c1c1c" stroke-width="0.45">70</text>
<text x="2124.3" y="2142.49" font-size="14" fill="#1c1c1c" stroke="#1c1c1c" stroke-width="0.45">140</text>
<text x="2124.3" y="2203.29" font-size="14" fill="#1c1c1c" stroke="#1c1c1c" stroke-width="0.45">210</text>
<text x="2124.3" y="2264.09" font-size="14" fill="#1c1c1c" stroke="#1c1c1c" stroke-width="0.45">280</text>
<text x="2124.3" y="2324.89" font-size="14" fill="#1c1c1c" stroke="#1c1c1c" stroke-width="0.45">350</text>
<text x="1927.2" y="2304.2" font-size="13.5" fill="#1c1c1c" stroke="#1c1c1c" stroke-width="0.45" textLength="32.5" lengthAdjust="spacingAndGlyphs">180.0</text>
<text x="1926.8" y="2322.4" font-size="13.5" fill="#1c1c1c" stroke="#1c1c1c" stroke-width="0.45" textLength="33" lengthAdjust="spacingAndGlyphs">270.0</text>
<text x="2023.6" y="2304.2" font-size="13.5" fill="#1c1c1c" stroke="#1c1c1c" stroke-width="0.45" textLength="17.5" lengthAdjust="spacingAndGlyphs">0.0</text>
<text x="2023.6" y="2322.4" font-size="13.5" fill="#1c1c1c" stroke="#1c1c1c" stroke-width="0.45" textLength="25.5" lengthAdjust="spacingAndGlyphs">90.0</text>
<line x1="1963.2" y1="2299.9" x2="2020.4" y2="2299.9" stroke="#e58f93" stroke-width="1.6"/>
<line x1="1963.2" y1="2317.4" x2="2020.4" y2="2317.4" stroke="#aeaedc" stroke-width="2.8"/>
<text x="2321.8" y="2319.2" font-size="13.5" fill="#1c1c1c" stroke="#1c1c1c" stroke-width="0.45" textLength="39" lengthAdjust="spacingAndGlyphs" text-anchor="end">cd/klm</text>
<text x="2125.3" y="1909.4" font-size="14" fill="#1c1c1c" stroke="#1c1c1c" stroke-width="0.45" text-anchor="middle" textLength="26" lengthAdjust="spacingAndGlyphs">180°</text>
<text x="2123.3" y="2344.7" font-size="14" fill="#1c1c1c" stroke="#1c1c1c" stroke-width="0.45" text-anchor="middle" textLength="13" lengthAdjust="spacingAndGlyphs">0°</text>
<text x="1914.8" y="2027.69" font-size="14" fill="#1c1c1c" stroke="#1c1c1c" stroke-width="0.45" text-anchor="end" textLength="20" lengthAdjust="spacingAndGlyphs">90°</text>
<text x="2334.2" y="2027.69" font-size="14" fill="#1c1c1c" stroke="#1c1c1c" stroke-width="0.45" textLength="20" lengthAdjust="spacingAndGlyphs">90°</text>
</g>
<path d="M139.6,2394.4 L153.6,2394.4 L143.4,2412.8" fill="none" stroke="#231f20" stroke-width="3.5" stroke-linejoin="miter"/>
<ellipse cx="166.9" cy="2403" rx="8.5" ry="8.9" fill="none" stroke="#231f20" stroke-width="3.5"/>
<ellipse cx="191.6" cy="2403" rx="8.5" ry="8.9" fill="none" stroke="#231f20" stroke-width="3.5"/>
<path d="M243.5,2397 C242,2393.5 236,2393 231.5,2393.2 C224,2393.4 220.2,2395.5 220.2,2399 C220.2,2402.5 224,2403.2 230,2403.8 C233.5,2404.1 235,2404.4 235,2405.4 C235,2406.6 232.5,2406.8 229.5,2406.6 C226,2406.4 224,2405.6 223.8,2404.8 L220,2404.8 C220.5,2410 226,2412.8 232,2412.8 C239,2412.8 244,2411 244,2406.5 C244,2402.7 240,2402 233.5,2401.4 C230,2401.1 229,2400.6 229,2399.8 C229,2398.8 231,2398.6 233,2398.7 C235.5,2398.8 236.5,2399.2 237,2399.9 Z" fill="#231f20"/>
<path d="M259.2,2393.3 C251,2393.3 245.2,2397.5 245.2,2403 C245.2,2408.6 251,2412.8 259.2,2412.8 C267.4,2412.8 273,2408.6 273,2403 C273,2397.5 267.4,2393.3 259.2,2393.3 Z M259,2398.6 C261.6,2398.6 263.4,2400.5 263.4,2403.1 C263.4,2405.7 261.6,2407.6 259,2407.6 C256.4,2407.6 254.6,2405.7 254.6,2403.1 C254.6,2400.5 256.4,2398.6 259,2398.6 Z" fill="#231f20" fill-rule="evenodd"/>
<path d="M272,2394.4 L281.5,2394.4 L285.5,2405 L293.3,2379.8 L303,2379.4 C308.5,2379.2 312,2381 312,2384.5 C312,2388 308.5,2389.6 303.5,2389.6 L299.5,2389.6 L292.5,2412.7 L279.5,2412.7 Z M304.5,2382.4 C303.2,2382.4 302.2,2383.4 302.2,2384.7 C302.2,2386 303.2,2387 304.5,2387 C305.8,2387 306.8,2386 306.8,2384.7 C306.8,2383.4 305.8,2382.4 304.5,2382.4 Z" fill="#231f20" fill-rule="evenodd"/>
<path d="M298.6,2393.6 L311.9,2393.6 L311.9,2407 L316,2407 L316,2412.7 L298.6,2412.7 L298.6,2407 L301.2,2407 L301.2,2398.3 L298.6,2398.3 Z" fill="#231f20"/>
<path d="M318.2,2385.8 L332.2,2385.8 L332.2,2407 L336.8,2407 L336.8,2412.7 L318,2412.7 L318,2407 L321.5,2407 L321.5,2390.5 L318.2,2390.5 Z" fill="#231f20"/>
<text x="220" y="2417.3" font-size="4.4" fill="#444" textLength="75.8" lengthAdjust="spacingAndGlyphs">ITALIAN LIGHTING SOLUTION</text>
<rect x="298.4" y="2414.1" width="13.5" height="3" fill="#1e8c3e"/>
<rect x="323.3" y="2414.1" width="13.5" height="3" fill="#e01b24"/>
<circle cx="334.4" cy="2381.8" r="2.1" fill="none" stroke="#999" stroke-width="0.6"/>
</svg></body></html>
